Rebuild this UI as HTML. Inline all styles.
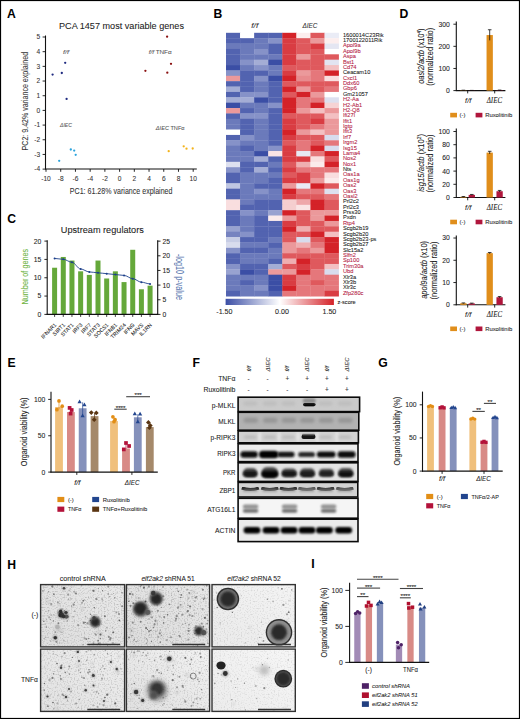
<!DOCTYPE html>
<html><head><meta charset="utf-8"><title>Figure</title>
<style>
html,body{margin:0;padding:0;background:#fff;}
body{width:520px;height:719px;overflow:hidden;position:relative;font-family:"Liberation Sans", sans-serif;}
svg{position:absolute;left:0;top:0;display:block;}
</style></head><body>
<svg width="520" height="719" viewBox="0 0 520 719" font-family="'Liberation Sans', sans-serif">
<rect x="0" y="0" width="520" height="719" fill="#fff"/>
<text x="7.00" y="17.60" font-size="12.2" text-anchor="start" fill="#000" font-weight="bold" >A</text>
<text x="213.50" y="18.00" font-size="12.2" text-anchor="start" fill="#000" font-weight="bold" >B</text>
<text x="7.30" y="222.50" font-size="12.2" text-anchor="start" fill="#000" font-weight="bold" >C</text>
<text x="399.50" y="17.70" font-size="12.2" text-anchor="start" fill="#000" font-weight="bold" >D</text>
<text x="7.40" y="367.30" font-size="12.2" text-anchor="start" fill="#000" font-weight="bold" >E</text>
<text x="192.60" y="367.30" font-size="12.2" text-anchor="start" fill="#000" font-weight="bold" >F</text>
<text x="378.30" y="367.30" font-size="12.2" text-anchor="start" fill="#000" font-weight="bold" >G</text>
<text x="7.30" y="568.50" font-size="12.2" text-anchor="start" fill="#000" font-weight="bold" >H</text>
<text x="311.30" y="567.50" font-size="12.2" text-anchor="start" fill="#000" font-weight="bold" >I</text>
<text x="59.00" y="28.50" font-size="9.1" text-anchor="start" fill="#222" textLength="125.00" lengthAdjust="spacingAndGlyphs" stroke="#222" stroke-width="0.07" >PCA 1457 most variable genes</text>
<line x1="45.50" y1="35.50" x2="45.50" y2="169.50" stroke="#111" stroke-width="1.1"/>
<line x1="45.00" y1="169.00" x2="196.80" y2="169.00" stroke="#111" stroke-width="1.1"/>
<line x1="42.60" y1="169.12" x2="45.50" y2="169.12" stroke="#111" stroke-width="0.9"/>
<text x="40.20" y="171.42" font-size="6.6" text-anchor="end" fill="#333" stroke="#333" stroke-width="0.07" >-4</text>
<line x1="42.60" y1="154.44" x2="45.50" y2="154.44" stroke="#111" stroke-width="0.9"/>
<text x="40.20" y="156.74" font-size="6.6" text-anchor="end" fill="#333" stroke="#333" stroke-width="0.07" >-3</text>
<line x1="42.60" y1="139.76" x2="45.50" y2="139.76" stroke="#111" stroke-width="0.9"/>
<text x="40.20" y="142.06" font-size="6.6" text-anchor="end" fill="#333" stroke="#333" stroke-width="0.07" >-2</text>
<line x1="42.60" y1="125.08" x2="45.50" y2="125.08" stroke="#111" stroke-width="0.9"/>
<text x="40.20" y="127.38" font-size="6.6" text-anchor="end" fill="#333" stroke="#333" stroke-width="0.07" >-1</text>
<line x1="42.60" y1="110.40" x2="45.50" y2="110.40" stroke="#111" stroke-width="0.9"/>
<text x="40.20" y="112.70" font-size="6.6" text-anchor="end" fill="#333" stroke="#333" stroke-width="0.07" >0</text>
<line x1="42.60" y1="95.72" x2="45.50" y2="95.72" stroke="#111" stroke-width="0.9"/>
<text x="40.20" y="98.02" font-size="6.6" text-anchor="end" fill="#333" stroke="#333" stroke-width="0.07" >1</text>
<line x1="42.60" y1="81.04" x2="45.50" y2="81.04" stroke="#111" stroke-width="0.9"/>
<text x="40.20" y="83.34" font-size="6.6" text-anchor="end" fill="#333" stroke="#333" stroke-width="0.07" >2</text>
<line x1="42.60" y1="66.36" x2="45.50" y2="66.36" stroke="#111" stroke-width="0.9"/>
<text x="40.20" y="68.66" font-size="6.6" text-anchor="end" fill="#333" stroke="#333" stroke-width="0.07" >3</text>
<line x1="42.60" y1="51.68" x2="45.50" y2="51.68" stroke="#111" stroke-width="0.9"/>
<text x="40.20" y="53.98" font-size="6.6" text-anchor="end" fill="#333" stroke="#333" stroke-width="0.07" >4</text>
<line x1="42.60" y1="37.00" x2="45.50" y2="37.00" stroke="#111" stroke-width="0.9"/>
<text x="40.20" y="39.30" font-size="6.6" text-anchor="end" fill="#333" stroke="#333" stroke-width="0.07" >5</text>
<line x1="46.00" y1="169.00" x2="46.00" y2="171.80" stroke="#111" stroke-width="0.9"/>
<text x="46.00" y="181.20" font-size="6.6" text-anchor="middle" fill="#333" stroke="#333" stroke-width="0.07" >-10</text>
<line x1="60.72" y1="169.00" x2="60.72" y2="171.80" stroke="#111" stroke-width="0.9"/>
<text x="60.72" y="181.20" font-size="6.6" text-anchor="middle" fill="#333" stroke="#333" stroke-width="0.07" >-8</text>
<line x1="75.44" y1="169.00" x2="75.44" y2="171.80" stroke="#111" stroke-width="0.9"/>
<text x="75.44" y="181.20" font-size="6.6" text-anchor="middle" fill="#333" stroke="#333" stroke-width="0.07" >-6</text>
<line x1="90.16" y1="169.00" x2="90.16" y2="171.80" stroke="#111" stroke-width="0.9"/>
<text x="90.16" y="181.20" font-size="6.6" text-anchor="middle" fill="#333" stroke="#333" stroke-width="0.07" >-4</text>
<line x1="104.88" y1="169.00" x2="104.88" y2="171.80" stroke="#111" stroke-width="0.9"/>
<text x="104.88" y="181.20" font-size="6.6" text-anchor="middle" fill="#333" stroke="#333" stroke-width="0.07" >-2</text>
<line x1="119.60" y1="169.00" x2="119.60" y2="171.80" stroke="#111" stroke-width="0.9"/>
<text x="119.60" y="181.20" font-size="6.6" text-anchor="middle" fill="#333" stroke="#333" stroke-width="0.07" >0</text>
<line x1="134.32" y1="169.00" x2="134.32" y2="171.80" stroke="#111" stroke-width="0.9"/>
<text x="134.32" y="181.20" font-size="6.6" text-anchor="middle" fill="#333" stroke="#333" stroke-width="0.07" >2</text>
<line x1="149.04" y1="169.00" x2="149.04" y2="171.80" stroke="#111" stroke-width="0.9"/>
<text x="149.04" y="181.20" font-size="6.6" text-anchor="middle" fill="#333" stroke="#333" stroke-width="0.07" >4</text>
<line x1="163.76" y1="169.00" x2="163.76" y2="171.80" stroke="#111" stroke-width="0.9"/>
<text x="163.76" y="181.20" font-size="6.6" text-anchor="middle" fill="#333" stroke="#333" stroke-width="0.07" >6</text>
<line x1="178.48" y1="169.00" x2="178.48" y2="171.80" stroke="#111" stroke-width="0.9"/>
<text x="178.48" y="181.20" font-size="6.6" text-anchor="middle" fill="#333" stroke="#333" stroke-width="0.07" >8</text>
<line x1="193.20" y1="169.00" x2="193.20" y2="171.80" stroke="#111" stroke-width="0.9"/>
<text x="193.20" y="181.20" font-size="6.6" text-anchor="middle" fill="#333" stroke="#333" stroke-width="0.07" >10</text>
<text x="69.80" y="194.40" font-size="9.2" text-anchor="start" fill="#333" textLength="102.70" lengthAdjust="spacingAndGlyphs" stroke="#333" stroke-width="0.07" >PC1: 61.28% variance explained</text>
<text x="27.60" y="150.40" font-size="9.2" text-anchor="start" fill="#333" textLength="98.50" lengthAdjust="spacingAndGlyphs" transform="rotate(-90 27.60 150.40)" stroke="#333" stroke-width="0.07" >PC2: 9.42% variance explained</text>
<circle cx="52.60" cy="74.60" r="1.15" fill="#1f2a80" />
<circle cx="61.80" cy="73.00" r="1.15" fill="#1f2a80" />
<circle cx="65.20" cy="62.80" r="1.15" fill="#1f2a80" />
<circle cx="66.60" cy="98.90" r="1.15" fill="#1f2a80" />
<circle cx="167.10" cy="36.70" r="1.15" fill="#8a1010" />
<circle cx="171.00" cy="63.80" r="1.15" fill="#8a1010" />
<circle cx="145.40" cy="70.80" r="1.15" fill="#8a1010" />
<circle cx="167.30" cy="72.70" r="1.15" fill="#8a1010" />
<circle cx="70.80" cy="149.50" r="1.15" fill="#2aa3dc" />
<circle cx="74.20" cy="150.60" r="1.15" fill="#2aa3dc" />
<circle cx="75.70" cy="154.80" r="1.15" fill="#2aa3dc" />
<circle cx="59.20" cy="160.80" r="1.15" fill="#2aa3dc" />
<circle cx="168.70" cy="151.20" r="1.15" fill="#f3b31b" />
<circle cx="183.70" cy="146.30" r="1.15" fill="#f3b31b" />
<circle cx="186.50" cy="148.70" r="1.15" fill="#f3b31b" />
<circle cx="192.70" cy="148.50" r="1.15" fill="#f3b31b" />
<text x="63.00" y="53.80" font-size="6" text-anchor="start" fill="#555" font-style="italic" textLength="6.00" lengthAdjust="spacingAndGlyphs" stroke="#555" stroke-width="0.07" >f/f</text>
<text x="148.70" y="53.70" font-size="6" text-anchor="start" fill="#555" textLength="23.00" lengthAdjust="spacingAndGlyphs" stroke="#555" stroke-width="0.07" ><tspan font-style="italic">f/f</tspan> TNFα</text>
<text x="60.00" y="127.40" font-size="6" text-anchor="start" fill="#555" font-style="italic" textLength="12.00" lengthAdjust="spacingAndGlyphs" stroke="#555" stroke-width="0.07" >ΔIEC</text>
<text x="155.80" y="130.00" font-size="6" text-anchor="start" fill="#555" textLength="28.80" lengthAdjust="spacingAndGlyphs" stroke="#555" stroke-width="0.07" ><tspan font-style="italic">ΔIEC</tspan> TNFα</text>
<rect x="226.00" y="32.80" width="14.38" height="5.68" fill="#5263b0" />
<rect x="240.07" y="32.80" width="14.38" height="5.68" fill="#ffffff" />
<rect x="254.15" y="32.80" width="14.38" height="5.68" fill="#5263b0" />
<rect x="268.23" y="32.80" width="14.38" height="5.68" fill="#5263b0" />
<rect x="282.30" y="32.80" width="14.38" height="5.68" fill="#d42228" />
<rect x="296.38" y="32.80" width="14.38" height="5.68" fill="#fceeee" />
<rect x="310.45" y="32.80" width="14.38" height="5.68" fill="#df595d" />
<rect x="324.53" y="32.80" width="14.38" height="5.68" fill="#eaecf6" />
<text x="342.90" y="36.69" font-size="5.7" text-anchor="start" fill="#1a1a1a" stroke="#1a1a1a" stroke-width="0.07" >1600014C23Rik</text>
<rect x="226.00" y="38.18" width="14.38" height="5.68" fill="#5263b0" />
<rect x="240.07" y="38.18" width="14.38" height="5.68" fill="#5263b0" />
<rect x="254.15" y="38.18" width="14.38" height="5.68" fill="#6b7abb" />
<rect x="268.23" y="38.18" width="14.38" height="5.68" fill="#8692c8" />
<rect x="282.30" y="38.18" width="14.38" height="5.68" fill="#d93c42" />
<rect x="296.38" y="38.18" width="14.38" height="5.68" fill="#df595d" />
<rect x="310.45" y="38.18" width="14.38" height="5.68" fill="#eb999b" />
<rect x="324.53" y="38.18" width="14.38" height="5.68" fill="#fceeee" />
<text x="342.90" y="42.06" font-size="5.7" text-anchor="start" fill="#1a1a1a" stroke="#1a1a1a" stroke-width="0.07" >1700122011Rik</text>
<rect x="226.00" y="43.55" width="14.38" height="5.68" fill="#6b7abb" />
<rect x="240.07" y="43.55" width="14.38" height="5.68" fill="#6b7abb" />
<rect x="254.15" y="43.55" width="14.38" height="5.68" fill="#6b7abb" />
<rect x="268.23" y="43.55" width="14.38" height="5.68" fill="#5263b0" />
<rect x="282.30" y="43.55" width="14.38" height="5.68" fill="#d93c42" />
<rect x="296.38" y="43.55" width="14.38" height="5.68" fill="#df595d" />
<rect x="310.45" y="43.55" width="14.38" height="5.68" fill="#d93c42" />
<rect x="324.53" y="43.55" width="14.38" height="5.68" fill="#e4e6f2" />
<text x="342.90" y="47.44" font-size="5.7" text-anchor="start" fill="#b3173f" stroke="#b3173f" stroke-width="0.07" >Apol9a</text>
<rect x="226.00" y="48.93" width="14.38" height="5.68" fill="#5263b0" />
<rect x="240.07" y="48.93" width="14.38" height="5.68" fill="#6b7abb" />
<rect x="254.15" y="48.93" width="14.38" height="5.68" fill="#8692c8" />
<rect x="268.23" y="48.93" width="14.38" height="5.68" fill="#5263b0" />
<rect x="282.30" y="48.93" width="14.38" height="5.68" fill="#d93c42" />
<rect x="296.38" y="48.93" width="14.38" height="5.68" fill="#df595d" />
<rect x="310.45" y="48.93" width="14.38" height="5.68" fill="#df595d" />
<rect x="324.53" y="48.93" width="14.38" height="5.68" fill="#ffffff" />
<text x="342.90" y="52.81" font-size="5.7" text-anchor="start" fill="#b3173f" stroke="#b3173f" stroke-width="0.07" >Apol9b</text>
<rect x="226.00" y="54.30" width="14.38" height="5.68" fill="#5263b0" />
<rect x="240.07" y="54.30" width="14.38" height="5.68" fill="#6b7abb" />
<rect x="254.15" y="54.30" width="14.38" height="5.68" fill="#6b7abb" />
<rect x="268.23" y="54.30" width="14.38" height="5.68" fill="#6b7abb" />
<rect x="282.30" y="54.30" width="14.38" height="5.68" fill="#d93c42" />
<rect x="296.38" y="54.30" width="14.38" height="5.68" fill="#eb999b" />
<rect x="310.45" y="54.30" width="14.38" height="5.68" fill="#df595d" />
<rect x="324.53" y="54.30" width="14.38" height="5.68" fill="#df595d" />
<text x="342.90" y="58.19" font-size="5.7" text-anchor="start" fill="#b3173f" stroke="#b3173f" stroke-width="0.07" >Aspa</text>
<rect x="226.00" y="59.68" width="14.38" height="5.68" fill="#5263b0" />
<rect x="240.07" y="59.68" width="14.38" height="5.68" fill="#8692c8" />
<rect x="254.15" y="59.68" width="14.38" height="5.68" fill="#a4add5" />
<rect x="268.23" y="59.68" width="14.38" height="5.68" fill="#3b4ea5" />
<rect x="282.30" y="59.68" width="14.38" height="5.68" fill="#d93c42" />
<rect x="296.38" y="59.68" width="14.38" height="5.68" fill="#df595d" />
<rect x="310.45" y="59.68" width="14.38" height="5.68" fill="#df595d" />
<rect x="324.53" y="59.68" width="14.38" height="5.68" fill="#e2e4f1" />
<text x="342.90" y="63.57" font-size="5.7" text-anchor="start" fill="#b3173f" stroke="#b3173f" stroke-width="0.07" >Bst1</text>
<rect x="226.00" y="65.05" width="14.38" height="5.68" fill="#3b4ea5" />
<rect x="240.07" y="65.05" width="14.38" height="5.68" fill="#6b7abb" />
<rect x="254.15" y="65.05" width="14.38" height="5.68" fill="#8692c8" />
<rect x="268.23" y="65.05" width="14.38" height="5.68" fill="#6b7abb" />
<rect x="282.30" y="65.05" width="14.38" height="5.68" fill="#df595d" />
<rect x="296.38" y="65.05" width="14.38" height="5.68" fill="#df595d" />
<rect x="310.45" y="65.05" width="14.38" height="5.68" fill="#df595d" />
<rect x="324.53" y="65.05" width="14.38" height="5.68" fill="#f3c0c2" />
<text x="342.90" y="68.94" font-size="5.7" text-anchor="start" fill="#b3173f" stroke="#b3173f" stroke-width="0.07" >Cd74</text>
<rect x="226.00" y="70.43" width="14.38" height="5.68" fill="#8692c8" />
<rect x="240.07" y="70.43" width="14.38" height="5.68" fill="#5263b0" />
<rect x="254.15" y="70.43" width="14.38" height="5.68" fill="#5263b0" />
<rect x="268.23" y="70.43" width="14.38" height="5.68" fill="#6b7abb" />
<rect x="282.30" y="70.43" width="14.38" height="5.68" fill="#d93c42" />
<rect x="296.38" y="70.43" width="14.38" height="5.68" fill="#eb999b" />
<rect x="310.45" y="70.43" width="14.38" height="5.68" fill="#e5777b" />
<rect x="324.53" y="70.43" width="14.38" height="5.68" fill="#d42228" />
<text x="342.90" y="74.32" font-size="5.7" text-anchor="start" fill="#1a1a1a" stroke="#1a1a1a" stroke-width="0.07" >Ceacam10</text>
<rect x="226.00" y="75.80" width="14.38" height="5.68" fill="#eb999b" />
<rect x="240.07" y="75.80" width="14.38" height="5.68" fill="#5263b0" />
<rect x="254.15" y="75.80" width="14.38" height="5.68" fill="#8692c8" />
<rect x="268.23" y="75.80" width="14.38" height="5.68" fill="#3b4ea5" />
<rect x="282.30" y="75.80" width="14.38" height="5.68" fill="#d42228" />
<rect x="296.38" y="75.80" width="14.38" height="5.68" fill="#e88b8e" />
<rect x="310.45" y="75.80" width="14.38" height="5.68" fill="#e5777b" />
<rect x="324.53" y="75.80" width="14.38" height="5.68" fill="#f9dedf" />
<text x="342.90" y="79.69" font-size="5.7" text-anchor="start" fill="#b3173f" stroke="#b3173f" stroke-width="0.07" >Cxcl1</text>
<rect x="226.00" y="81.18" width="14.38" height="5.68" fill="#5263b0" />
<rect x="240.07" y="81.18" width="14.38" height="5.68" fill="#5263b0" />
<rect x="254.15" y="81.18" width="14.38" height="5.68" fill="#6b7abb" />
<rect x="268.23" y="81.18" width="14.38" height="5.68" fill="#5263b0" />
<rect x="282.30" y="81.18" width="14.38" height="5.68" fill="#df595d" />
<rect x="296.38" y="81.18" width="14.38" height="5.68" fill="#df595d" />
<rect x="310.45" y="81.18" width="14.38" height="5.68" fill="#df595d" />
<rect x="324.53" y="81.18" width="14.38" height="5.68" fill="#df595d" />
<text x="342.90" y="85.07" font-size="5.7" text-anchor="start" fill="#b3173f" stroke="#b3173f" stroke-width="0.07" >Ddx60</text>
<rect x="226.00" y="86.56" width="14.38" height="5.68" fill="#a4add5" />
<rect x="240.07" y="86.56" width="14.38" height="5.68" fill="#5263b0" />
<rect x="254.15" y="86.56" width="14.38" height="5.68" fill="#6b7abb" />
<rect x="268.23" y="86.56" width="14.38" height="5.68" fill="#5263b0" />
<rect x="282.30" y="86.56" width="14.38" height="5.68" fill="#d42228" />
<rect x="296.38" y="86.56" width="14.38" height="5.68" fill="#eb999b" />
<rect x="310.45" y="86.56" width="14.38" height="5.68" fill="#df595d" />
<rect x="324.53" y="86.56" width="14.38" height="5.68" fill="#e5777b" />
<text x="342.90" y="90.44" font-size="5.7" text-anchor="start" fill="#b3173f" stroke="#b3173f" stroke-width="0.07" >Gbp6</text>
<rect x="226.00" y="91.93" width="14.38" height="5.68" fill="#5263b0" />
<rect x="240.07" y="91.93" width="14.38" height="5.68" fill="#8692c8" />
<rect x="254.15" y="91.93" width="14.38" height="5.68" fill="#8692c8" />
<rect x="268.23" y="91.93" width="14.38" height="5.68" fill="#5263b0" />
<rect x="282.30" y="91.93" width="14.38" height="5.68" fill="#df595d" />
<rect x="296.38" y="91.93" width="14.38" height="5.68" fill="#d42228" />
<rect x="310.45" y="91.93" width="14.38" height="5.68" fill="#eb999b" />
<rect x="324.53" y="91.93" width="14.38" height="5.68" fill="#ffffff" />
<text x="342.90" y="95.82" font-size="5.7" text-anchor="start" fill="#1a1a1a" stroke="#1a1a1a" stroke-width="0.07" >Gm21057</text>
<rect x="226.00" y="97.31" width="14.38" height="5.68" fill="#a4add5" />
<rect x="240.07" y="97.31" width="14.38" height="5.68" fill="#a4add5" />
<rect x="254.15" y="97.31" width="14.38" height="5.68" fill="#3b4ea5" />
<rect x="268.23" y="97.31" width="14.38" height="5.68" fill="#5263b0" />
<rect x="282.30" y="97.31" width="14.38" height="5.68" fill="#d42228" />
<rect x="296.38" y="97.31" width="14.38" height="5.68" fill="#e5777b" />
<rect x="310.45" y="97.31" width="14.38" height="5.68" fill="#e5777b" />
<rect x="324.53" y="97.31" width="14.38" height="5.68" fill="#dde0ef" />
<text x="342.90" y="101.19" font-size="5.7" text-anchor="start" fill="#b3173f" stroke="#b3173f" stroke-width="0.07" >H2-Aa</text>
<rect x="226.00" y="102.68" width="14.38" height="5.68" fill="#3b4ea5" />
<rect x="240.07" y="102.68" width="14.38" height="5.68" fill="#6b7abb" />
<rect x="254.15" y="102.68" width="14.38" height="5.68" fill="#6b7abb" />
<rect x="268.23" y="102.68" width="14.38" height="5.68" fill="#8692c8" />
<rect x="282.30" y="102.68" width="14.38" height="5.68" fill="#d42228" />
<rect x="296.38" y="102.68" width="14.38" height="5.68" fill="#e5777b" />
<rect x="310.45" y="102.68" width="14.38" height="5.68" fill="#d42228" />
<rect x="324.53" y="102.68" width="14.38" height="5.68" fill="#f6d3d4" />
<text x="342.90" y="106.57" font-size="5.7" text-anchor="start" fill="#b3173f" stroke="#b3173f" stroke-width="0.07" >H2-Ab1</text>
<rect x="226.00" y="108.06" width="14.38" height="5.68" fill="#eb999b" />
<rect x="240.07" y="108.06" width="14.38" height="5.68" fill="#5263b0" />
<rect x="254.15" y="108.06" width="14.38" height="5.68" fill="#6b7abb" />
<rect x="268.23" y="108.06" width="14.38" height="5.68" fill="#5263b0" />
<rect x="282.30" y="108.06" width="14.38" height="5.68" fill="#d42228" />
<rect x="296.38" y="108.06" width="14.38" height="5.68" fill="#eb999b" />
<rect x="310.45" y="108.06" width="14.38" height="5.68" fill="#f3c0c2" />
<rect x="324.53" y="108.06" width="14.38" height="5.68" fill="#eb999b" />
<text x="342.90" y="111.94" font-size="5.7" text-anchor="start" fill="#b3173f" stroke="#b3173f" stroke-width="0.07" >H2-Q8</text>
<rect x="226.00" y="113.43" width="14.38" height="5.68" fill="#5263b0" />
<rect x="240.07" y="113.43" width="14.38" height="5.68" fill="#8692c8" />
<rect x="254.15" y="113.43" width="14.38" height="5.68" fill="#8692c8" />
<rect x="268.23" y="113.43" width="14.38" height="5.68" fill="#5263b0" />
<rect x="282.30" y="113.43" width="14.38" height="5.68" fill="#df595d" />
<rect x="296.38" y="113.43" width="14.38" height="5.68" fill="#df595d" />
<rect x="310.45" y="113.43" width="14.38" height="5.68" fill="#df595d" />
<rect x="324.53" y="113.43" width="14.38" height="5.68" fill="#f3c0c2" />
<text x="342.90" y="117.32" font-size="5.7" text-anchor="start" fill="#b3173f" stroke="#b3173f" stroke-width="0.07" >Ifi27l</text>
<rect x="226.00" y="118.81" width="14.38" height="5.68" fill="#6b7abb" />
<rect x="240.07" y="118.81" width="14.38" height="5.68" fill="#5263b0" />
<rect x="254.15" y="118.81" width="14.38" height="5.68" fill="#6b7abb" />
<rect x="268.23" y="118.81" width="14.38" height="5.68" fill="#5263b0" />
<rect x="282.30" y="118.81" width="14.38" height="5.68" fill="#d93c42" />
<rect x="296.38" y="118.81" width="14.38" height="5.68" fill="#df595d" />
<rect x="310.45" y="118.81" width="14.38" height="5.68" fill="#d93c42" />
<rect x="324.53" y="118.81" width="14.38" height="5.68" fill="#eb999b" />
<text x="342.90" y="122.70" font-size="5.7" text-anchor="start" fill="#b3173f" stroke="#b3173f" stroke-width="0.07" >Ifit1</text>
<rect x="226.00" y="124.18" width="14.38" height="5.68" fill="#6b7abb" />
<rect x="240.07" y="124.18" width="14.38" height="5.68" fill="#5263b0" />
<rect x="254.15" y="124.18" width="14.38" height="5.68" fill="#6b7abb" />
<rect x="268.23" y="124.18" width="14.38" height="5.68" fill="#5263b0" />
<rect x="282.30" y="124.18" width="14.38" height="5.68" fill="#d93c42" />
<rect x="296.38" y="124.18" width="14.38" height="5.68" fill="#df595d" />
<rect x="310.45" y="124.18" width="14.38" height="5.68" fill="#e5777b" />
<rect x="324.53" y="124.18" width="14.38" height="5.68" fill="#eb999b" />
<text x="342.90" y="128.07" font-size="5.7" text-anchor="start" fill="#b3173f" stroke="#b3173f" stroke-width="0.07" >Igtp</text>
<rect x="226.00" y="129.56" width="14.38" height="5.68" fill="#ffffff" />
<rect x="240.07" y="129.56" width="14.38" height="5.68" fill="#5263b0" />
<rect x="254.15" y="129.56" width="14.38" height="5.68" fill="#6b7abb" />
<rect x="268.23" y="129.56" width="14.38" height="5.68" fill="#5263b0" />
<rect x="282.30" y="129.56" width="14.38" height="5.68" fill="#d42228" />
<rect x="296.38" y="129.56" width="14.38" height="5.68" fill="#eb999b" />
<rect x="310.45" y="129.56" width="14.38" height="5.68" fill="#f3c0c2" />
<rect x="324.53" y="129.56" width="14.38" height="5.68" fill="#eb999b" />
<text x="342.90" y="133.45" font-size="5.7" text-anchor="start" fill="#b3173f" stroke="#b3173f" stroke-width="0.07" >Ifit3</text>
<rect x="226.00" y="134.93" width="14.38" height="5.68" fill="#5263b0" />
<rect x="240.07" y="134.93" width="14.38" height="5.68" fill="#8692c8" />
<rect x="254.15" y="134.93" width="14.38" height="5.68" fill="#6b7abb" />
<rect x="268.23" y="134.93" width="14.38" height="5.68" fill="#5263b0" />
<rect x="282.30" y="134.93" width="14.38" height="5.68" fill="#d93c42" />
<rect x="296.38" y="134.93" width="14.38" height="5.68" fill="#df595d" />
<rect x="310.45" y="134.93" width="14.38" height="5.68" fill="#df595d" />
<rect x="324.53" y="134.93" width="14.38" height="5.68" fill="#d8dced" />
<text x="342.90" y="138.82" font-size="5.7" text-anchor="start" fill="#b3173f" stroke="#b3173f" stroke-width="0.07" >Irf7</text>
<rect x="226.00" y="140.31" width="14.38" height="5.68" fill="#8692c8" />
<rect x="240.07" y="140.31" width="14.38" height="5.68" fill="#6b7abb" />
<rect x="254.15" y="140.31" width="14.38" height="5.68" fill="#6b7abb" />
<rect x="268.23" y="140.31" width="14.38" height="5.68" fill="#5263b0" />
<rect x="282.30" y="140.31" width="14.38" height="5.68" fill="#df595d" />
<rect x="296.38" y="140.31" width="14.38" height="5.68" fill="#e5777b" />
<rect x="310.45" y="140.31" width="14.38" height="5.68" fill="#df595d" />
<rect x="324.53" y="140.31" width="14.38" height="5.68" fill="#e5777b" />
<text x="342.90" y="144.20" font-size="5.7" text-anchor="start" fill="#b3173f" stroke="#b3173f" stroke-width="0.07" >Irgm2</text>
<rect x="226.00" y="145.69" width="14.38" height="5.68" fill="#6b7abb" />
<rect x="240.07" y="145.69" width="14.38" height="5.68" fill="#5263b0" />
<rect x="254.15" y="145.69" width="14.38" height="5.68" fill="#6b7abb" />
<rect x="268.23" y="145.69" width="14.38" height="5.68" fill="#8692c8" />
<rect x="282.30" y="145.69" width="14.38" height="5.68" fill="#d93c42" />
<rect x="296.38" y="145.69" width="14.38" height="5.68" fill="#e5777b" />
<rect x="310.45" y="145.69" width="14.38" height="5.68" fill="#d42228" />
<rect x="324.53" y="145.69" width="14.38" height="5.68" fill="#d8dced" />
<text x="342.90" y="149.57" font-size="5.7" text-anchor="start" fill="#b3173f" stroke="#b3173f" stroke-width="0.07" >Isg15</text>
<rect x="226.00" y="151.06" width="14.38" height="5.68" fill="#6b7abb" />
<rect x="240.07" y="151.06" width="14.38" height="5.68" fill="#6b7abb" />
<rect x="254.15" y="151.06" width="14.38" height="5.68" fill="#3b4ea5" />
<rect x="268.23" y="151.06" width="14.38" height="5.68" fill="#fae4e5" />
<rect x="282.30" y="151.06" width="14.38" height="5.68" fill="#d93c42" />
<rect x="296.38" y="151.06" width="14.38" height="5.68" fill="#e7e9f4" />
<rect x="310.45" y="151.06" width="14.38" height="5.68" fill="#e5777b" />
<rect x="324.53" y="151.06" width="14.38" height="5.68" fill="#d42228" />
<text x="342.90" y="154.95" font-size="5.7" text-anchor="start" fill="#b3173f" stroke="#b3173f" stroke-width="0.07" >Lama4</text>
<rect x="226.00" y="156.44" width="14.38" height="5.68" fill="#6b7abb" />
<rect x="240.07" y="156.44" width="14.38" height="5.68" fill="#6b7abb" />
<rect x="254.15" y="156.44" width="14.38" height="5.68" fill="#a4add5" />
<rect x="268.23" y="156.44" width="14.38" height="5.68" fill="#5263b0" />
<rect x="282.30" y="156.44" width="14.38" height="5.68" fill="#d93c42" />
<rect x="296.38" y="156.44" width="14.38" height="5.68" fill="#d93c42" />
<rect x="310.45" y="156.44" width="14.38" height="5.68" fill="#f9dedf" />
<rect x="324.53" y="156.44" width="14.38" height="5.68" fill="#df595d" />
<text x="342.90" y="160.32" font-size="5.7" text-anchor="start" fill="#b3173f" stroke="#b3173f" stroke-width="0.07" >Nos2</text>
<rect x="226.00" y="161.81" width="14.38" height="5.68" fill="#dde0ef" />
<rect x="240.07" y="161.81" width="14.38" height="5.68" fill="#5263b0" />
<rect x="254.15" y="161.81" width="14.38" height="5.68" fill="#5263b0" />
<rect x="268.23" y="161.81" width="14.38" height="5.68" fill="#6b7abb" />
<rect x="282.30" y="161.81" width="14.38" height="5.68" fill="#df595d" />
<rect x="296.38" y="161.81" width="14.38" height="5.68" fill="#efafb1" />
<rect x="310.45" y="161.81" width="14.38" height="5.68" fill="#fbebeb" />
<rect x="324.53" y="161.81" width="14.38" height="5.68" fill="#d42228" />
<text x="342.90" y="165.70" font-size="5.7" text-anchor="start" fill="#b3173f" stroke="#b3173f" stroke-width="0.07" >Nox1</text>
<rect x="226.00" y="167.19" width="14.38" height="5.68" fill="#8692c8" />
<rect x="240.07" y="167.19" width="14.38" height="5.68" fill="#5263b0" />
<rect x="254.15" y="167.19" width="14.38" height="5.68" fill="#a4add5" />
<rect x="268.23" y="167.19" width="14.38" height="5.68" fill="#5263b0" />
<rect x="282.30" y="167.19" width="14.38" height="5.68" fill="#d93c42" />
<rect x="296.38" y="167.19" width="14.38" height="5.68" fill="#e5777b" />
<rect x="310.45" y="167.19" width="14.38" height="5.68" fill="#e5777b" />
<rect x="324.53" y="167.19" width="14.38" height="5.68" fill="#e5777b" />
<text x="342.90" y="171.08" font-size="5.7" text-anchor="start" fill="#1a1a1a" stroke="#1a1a1a" stroke-width="0.07" >Nts</text>
<rect x="226.00" y="172.56" width="14.38" height="5.68" fill="#5263b0" />
<rect x="240.07" y="172.56" width="14.38" height="5.68" fill="#6b7abb" />
<rect x="254.15" y="172.56" width="14.38" height="5.68" fill="#6b7abb" />
<rect x="268.23" y="172.56" width="14.38" height="5.68" fill="#6b7abb" />
<rect x="282.30" y="172.56" width="14.38" height="5.68" fill="#df595d" />
<rect x="296.38" y="172.56" width="14.38" height="5.68" fill="#d93c42" />
<rect x="310.45" y="172.56" width="14.38" height="5.68" fill="#e5777b" />
<rect x="324.53" y="172.56" width="14.38" height="5.68" fill="#f9dedf" />
<text x="342.90" y="176.45" font-size="5.7" text-anchor="start" fill="#b3173f" stroke="#b3173f" stroke-width="0.07" >Oas1a</text>
<rect x="226.00" y="177.94" width="14.38" height="5.68" fill="#5263b0" />
<rect x="240.07" y="177.94" width="14.38" height="5.68" fill="#6b7abb" />
<rect x="254.15" y="177.94" width="14.38" height="5.68" fill="#6b7abb" />
<rect x="268.23" y="177.94" width="14.38" height="5.68" fill="#5263b0" />
<rect x="282.30" y="177.94" width="14.38" height="5.68" fill="#d93c42" />
<rect x="296.38" y="177.94" width="14.38" height="5.68" fill="#d93c42" />
<rect x="310.45" y="177.94" width="14.38" height="5.68" fill="#eb999b" />
<rect x="324.53" y="177.94" width="14.38" height="5.68" fill="#fbebeb" />
<text x="342.90" y="181.83" font-size="5.7" text-anchor="start" fill="#b3173f" stroke="#b3173f" stroke-width="0.07" >Oas1g</text>
<rect x="226.00" y="183.31" width="14.38" height="5.68" fill="#bfc6e2" />
<rect x="240.07" y="183.31" width="14.38" height="5.68" fill="#6b7abb" />
<rect x="254.15" y="183.31" width="14.38" height="5.68" fill="#5263b0" />
<rect x="268.23" y="183.31" width="14.38" height="5.68" fill="#5263b0" />
<rect x="282.30" y="183.31" width="14.38" height="5.68" fill="#eb999b" />
<rect x="296.38" y="183.31" width="14.38" height="5.68" fill="#e9ebf5" />
<rect x="310.45" y="183.31" width="14.38" height="5.68" fill="#d42228" />
<rect x="324.53" y="183.31" width="14.38" height="5.68" fill="#df595d" />
<text x="342.90" y="187.20" font-size="5.7" text-anchor="start" fill="#b3173f" stroke="#b3173f" stroke-width="0.07" >Oas2</text>
<rect x="226.00" y="188.69" width="14.38" height="5.68" fill="#5263b0" />
<rect x="240.07" y="188.69" width="14.38" height="5.68" fill="#6b7abb" />
<rect x="254.15" y="188.69" width="14.38" height="5.68" fill="#8692c8" />
<rect x="268.23" y="188.69" width="14.38" height="5.68" fill="#6b7abb" />
<rect x="282.30" y="188.69" width="14.38" height="5.68" fill="#d42228" />
<rect x="296.38" y="188.69" width="14.38" height="5.68" fill="#e5777b" />
<rect x="310.45" y="188.69" width="14.38" height="5.68" fill="#e5777b" />
<rect x="324.53" y="188.69" width="14.38" height="5.68" fill="#dde0ef" />
<text x="342.90" y="192.58" font-size="5.7" text-anchor="start" fill="#b3173f" stroke="#b3173f" stroke-width="0.07" >Oas3</text>
<rect x="226.00" y="194.07" width="14.38" height="5.68" fill="#5263b0" />
<rect x="240.07" y="194.07" width="14.38" height="5.68" fill="#6b7abb" />
<rect x="254.15" y="194.07" width="14.38" height="5.68" fill="#6b7abb" />
<rect x="268.23" y="194.07" width="14.38" height="5.68" fill="#6b7abb" />
<rect x="282.30" y="194.07" width="14.38" height="5.68" fill="#d93c42" />
<rect x="296.38" y="194.07" width="14.38" height="5.68" fill="#df595d" />
<rect x="310.45" y="194.07" width="14.38" height="5.68" fill="#df595d" />
<rect x="324.53" y="194.07" width="14.38" height="5.68" fill="#e5777b" />
<text x="342.90" y="197.95" font-size="5.7" text-anchor="start" fill="#b3173f" stroke="#b3173f" stroke-width="0.07" >Oasl2</text>
<rect x="226.00" y="199.44" width="14.38" height="5.68" fill="#f9dedf" />
<rect x="240.07" y="199.44" width="14.38" height="5.68" fill="#6b7abb" />
<rect x="254.15" y="199.44" width="14.38" height="5.68" fill="#5263b0" />
<rect x="268.23" y="199.44" width="14.38" height="5.68" fill="#5263b0" />
<rect x="282.30" y="199.44" width="14.38" height="5.68" fill="#f5cecf" />
<rect x="296.38" y="199.44" width="14.38" height="5.68" fill="#eea7aa" />
<rect x="310.45" y="199.44" width="14.38" height="5.68" fill="#d42228" />
<rect x="324.53" y="199.44" width="14.38" height="5.68" fill="#df595d" />
<text x="342.90" y="203.33" font-size="5.7" text-anchor="start" fill="#1a1a1a" stroke="#1a1a1a" stroke-width="0.07" >Prl2c2</text>
<rect x="226.00" y="204.82" width="14.38" height="5.68" fill="#f9dedf" />
<rect x="240.07" y="204.82" width="14.38" height="5.68" fill="#5263b0" />
<rect x="254.15" y="204.82" width="14.38" height="5.68" fill="#5263b0" />
<rect x="268.23" y="204.82" width="14.38" height="5.68" fill="#5263b0" />
<rect x="282.30" y="204.82" width="14.38" height="5.68" fill="#f5cecf" />
<rect x="296.38" y="204.82" width="14.38" height="5.68" fill="#fae4e5" />
<rect x="310.45" y="204.82" width="14.38" height="5.68" fill="#d42228" />
<rect x="324.53" y="204.82" width="14.38" height="5.68" fill="#df595d" />
<text x="342.90" y="208.70" font-size="5.7" text-anchor="start" fill="#1a1a1a" stroke="#1a1a1a" stroke-width="0.07" >Prl2c3</text>
<rect x="226.00" y="210.19" width="14.38" height="5.68" fill="#5263b0" />
<rect x="240.07" y="210.19" width="14.38" height="5.68" fill="#8692c8" />
<rect x="254.15" y="210.19" width="14.38" height="5.68" fill="#6b7abb" />
<rect x="268.23" y="210.19" width="14.38" height="5.68" fill="#98a2d0" />
<rect x="282.30" y="210.19" width="14.38" height="5.68" fill="#d42228" />
<rect x="296.38" y="210.19" width="14.38" height="5.68" fill="#df595d" />
<rect x="310.45" y="210.19" width="14.38" height="5.68" fill="#eb999b" />
<rect x="324.53" y="210.19" width="14.38" height="5.68" fill="#eb999b" />
<text x="342.90" y="214.08" font-size="5.7" text-anchor="start" fill="#1a1a1a" stroke="#1a1a1a" stroke-width="0.07" >Prss30</text>
<rect x="226.00" y="215.57" width="14.38" height="5.68" fill="#5263b0" />
<rect x="240.07" y="215.57" width="14.38" height="5.68" fill="#6b7abb" />
<rect x="254.15" y="215.57" width="14.38" height="5.68" fill="#5263b0" />
<rect x="268.23" y="215.57" width="14.38" height="5.68" fill="#fbebeb" />
<rect x="282.30" y="215.57" width="14.38" height="5.68" fill="#eb999b" />
<rect x="296.38" y="215.57" width="14.38" height="5.68" fill="#df595d" />
<rect x="310.45" y="215.57" width="14.38" height="5.68" fill="#eb999b" />
<rect x="324.53" y="215.57" width="14.38" height="5.68" fill="#d42228" />
<text x="342.90" y="219.46" font-size="5.7" text-anchor="start" fill="#1a1a1a" stroke="#1a1a1a" stroke-width="0.07" >Pxdn</text>
<rect x="226.00" y="220.94" width="14.38" height="5.68" fill="#5263b0" />
<rect x="240.07" y="220.94" width="14.38" height="5.68" fill="#6b7abb" />
<rect x="254.15" y="220.94" width="14.38" height="5.68" fill="#5263b0" />
<rect x="268.23" y="220.94" width="14.38" height="5.68" fill="#5263b0" />
<rect x="282.30" y="220.94" width="14.38" height="5.68" fill="#d93c42" />
<rect x="296.38" y="220.94" width="14.38" height="5.68" fill="#df595d" />
<rect x="310.45" y="220.94" width="14.38" height="5.68" fill="#df595d" />
<rect x="324.53" y="220.94" width="14.38" height="5.68" fill="#eb999b" />
<text x="342.90" y="224.83" font-size="5.7" text-anchor="start" fill="#b3173f" stroke="#b3173f" stroke-width="0.07" >Rtp4</text>
<rect x="226.00" y="226.32" width="14.38" height="5.68" fill="#98a2d0" />
<rect x="240.07" y="226.32" width="14.38" height="5.68" fill="#6b7abb" />
<rect x="254.15" y="226.32" width="14.38" height="5.68" fill="#5263b0" />
<rect x="268.23" y="226.32" width="14.38" height="5.68" fill="#5263b0" />
<rect x="282.30" y="226.32" width="14.38" height="5.68" fill="#d42228" />
<rect x="296.38" y="226.32" width="14.38" height="5.68" fill="#efafb1" />
<rect x="310.45" y="226.32" width="14.38" height="5.68" fill="#df595d" />
<rect x="324.53" y="226.32" width="14.38" height="5.68" fill="#df595d" />
<text x="342.90" y="230.21" font-size="5.7" text-anchor="start" fill="#1a1a1a" stroke="#1a1a1a" stroke-width="0.07" >Scgb2b19</text>
<rect x="226.00" y="231.69" width="14.38" height="5.68" fill="#7683c0" />
<rect x="240.07" y="231.69" width="14.38" height="5.68" fill="#8692c8" />
<rect x="254.15" y="231.69" width="14.38" height="5.68" fill="#5263b0" />
<rect x="268.23" y="231.69" width="14.38" height="5.68" fill="#5263b0" />
<rect x="282.30" y="231.69" width="14.38" height="5.68" fill="#df595d" />
<rect x="296.38" y="231.69" width="14.38" height="5.68" fill="#df595d" />
<rect x="310.45" y="231.69" width="14.38" height="5.68" fill="#d42228" />
<rect x="324.53" y="231.69" width="14.38" height="5.68" fill="#f3c0c2" />
<text x="342.90" y="235.58" font-size="5.7" text-anchor="start" fill="#1a1a1a" stroke="#1a1a1a" stroke-width="0.07" >Scgb2b20</text>
<rect x="226.00" y="237.07" width="14.38" height="5.68" fill="#c7cde5" />
<rect x="240.07" y="237.07" width="14.38" height="5.68" fill="#5263b0" />
<rect x="254.15" y="237.07" width="14.38" height="5.68" fill="#5263b0" />
<rect x="268.23" y="237.07" width="14.38" height="5.68" fill="#6b7abb" />
<rect x="282.30" y="237.07" width="14.38" height="5.68" fill="#df595d" />
<rect x="296.38" y="237.07" width="14.38" height="5.68" fill="#d8dced" />
<rect x="310.45" y="237.07" width="14.38" height="5.68" fill="#df595d" />
<rect x="324.53" y="237.07" width="14.38" height="5.68" fill="#d42228" />
<text x="342.90" y="240.96" font-size="5.7" text-anchor="start" fill="#1a1a1a" stroke="#1a1a1a" stroke-width="0.07" >Scgb2b23-ps</text>
<rect x="226.00" y="242.44" width="14.38" height="5.68" fill="#d8dced" />
<rect x="240.07" y="242.44" width="14.38" height="5.68" fill="#6b7abb" />
<rect x="254.15" y="242.44" width="14.38" height="5.68" fill="#6b7abb" />
<rect x="268.23" y="242.44" width="14.38" height="5.68" fill="#5263b0" />
<rect x="282.30" y="242.44" width="14.38" height="5.68" fill="#eb999b" />
<rect x="296.38" y="242.44" width="14.38" height="5.68" fill="#efafb1" />
<rect x="310.45" y="242.44" width="14.38" height="5.68" fill="#e5777b" />
<rect x="324.53" y="242.44" width="14.38" height="5.68" fill="#d42228" />
<text x="342.90" y="246.33" font-size="5.7" text-anchor="start" fill="#1a1a1a" stroke="#1a1a1a" stroke-width="0.07" >Scgb2b27</text>
<rect x="226.00" y="247.82" width="14.38" height="5.68" fill="#8692c8" />
<rect x="240.07" y="247.82" width="14.38" height="5.68" fill="#5263b0" />
<rect x="254.15" y="247.82" width="14.38" height="5.68" fill="#5263b0" />
<rect x="268.23" y="247.82" width="14.38" height="5.68" fill="#6b7abb" />
<rect x="282.30" y="247.82" width="14.38" height="5.68" fill="#eb999b" />
<rect x="296.38" y="247.82" width="14.38" height="5.68" fill="#e5777b" />
<rect x="310.45" y="247.82" width="14.38" height="5.68" fill="#eb999b" />
<rect x="324.53" y="247.82" width="14.38" height="5.68" fill="#d42228" />
<text x="342.90" y="251.71" font-size="5.7" text-anchor="start" fill="#1a1a1a" stroke="#1a1a1a" stroke-width="0.07" >Slc15a2</text>
<rect x="226.00" y="253.20" width="14.38" height="5.68" fill="#5263b0" />
<rect x="240.07" y="253.20" width="14.38" height="5.68" fill="#6b7abb" />
<rect x="254.15" y="253.20" width="14.38" height="5.68" fill="#6b7abb" />
<rect x="268.23" y="253.20" width="14.38" height="5.68" fill="#6b7abb" />
<rect x="282.30" y="253.20" width="14.38" height="5.68" fill="#df595d" />
<rect x="296.38" y="253.20" width="14.38" height="5.68" fill="#df595d" />
<rect x="310.45" y="253.20" width="14.38" height="5.68" fill="#df595d" />
<rect x="324.53" y="253.20" width="14.38" height="5.68" fill="#df595d" />
<text x="342.90" y="257.08" font-size="5.7" text-anchor="start" fill="#b3173f" stroke="#b3173f" stroke-width="0.07" >Slfn2</text>
<rect x="226.00" y="258.57" width="14.38" height="5.68" fill="#5263b0" />
<rect x="240.07" y="258.57" width="14.38" height="5.68" fill="#6b7abb" />
<rect x="254.15" y="258.57" width="14.38" height="5.68" fill="#6b7abb" />
<rect x="268.23" y="258.57" width="14.38" height="5.68" fill="#5263b0" />
<rect x="282.30" y="258.57" width="14.38" height="5.68" fill="#efafb1" />
<rect x="296.38" y="258.57" width="14.38" height="5.68" fill="#d42228" />
<rect x="310.45" y="258.57" width="14.38" height="5.68" fill="#df595d" />
<rect x="324.53" y="258.57" width="14.38" height="5.68" fill="#df595d" />
<text x="342.90" y="262.46" font-size="5.7" text-anchor="start" fill="#b3173f" stroke="#b3173f" stroke-width="0.07" >Sp100</text>
<rect x="226.00" y="263.95" width="14.38" height="5.68" fill="#8692c8" />
<rect x="240.07" y="263.95" width="14.38" height="5.68" fill="#5263b0" />
<rect x="254.15" y="263.95" width="14.38" height="5.68" fill="#5263b0" />
<rect x="268.23" y="263.95" width="14.38" height="5.68" fill="#a4add5" />
<rect x="282.30" y="263.95" width="14.38" height="5.68" fill="#df595d" />
<rect x="296.38" y="263.95" width="14.38" height="5.68" fill="#d93c42" />
<rect x="310.45" y="263.95" width="14.38" height="5.68" fill="#df595d" />
<rect x="324.53" y="263.95" width="14.38" height="5.68" fill="#f3c0c2" />
<text x="342.90" y="267.83" font-size="5.7" text-anchor="start" fill="#b3173f" stroke="#b3173f" stroke-width="0.07" >Trim30a</text>
<rect x="226.00" y="269.32" width="14.38" height="5.68" fill="#98a2d0" />
<rect x="240.07" y="269.32" width="14.38" height="5.68" fill="#3b4ea5" />
<rect x="254.15" y="269.32" width="14.38" height="5.68" fill="#5263b0" />
<rect x="268.23" y="269.32" width="14.38" height="5.68" fill="#eb999b" />
<rect x="282.30" y="269.32" width="14.38" height="5.68" fill="#eb999b" />
<rect x="296.38" y="269.32" width="14.38" height="5.68" fill="#d42228" />
<rect x="310.45" y="269.32" width="14.38" height="5.68" fill="#e5777b" />
<rect x="324.53" y="269.32" width="14.38" height="5.68" fill="#d8dced" />
<text x="342.90" y="273.21" font-size="5.7" text-anchor="start" fill="#b3173f" stroke="#b3173f" stroke-width="0.07" >Ubd</text>
<rect x="226.00" y="274.70" width="14.38" height="5.68" fill="#6b7abb" />
<rect x="240.07" y="274.70" width="14.38" height="5.68" fill="#6b7abb" />
<rect x="254.15" y="274.70" width="14.38" height="5.68" fill="#6b7abb" />
<rect x="268.23" y="274.70" width="14.38" height="5.68" fill="#3b4ea5" />
<rect x="282.30" y="274.70" width="14.38" height="5.68" fill="#d93c42" />
<rect x="296.38" y="274.70" width="14.38" height="5.68" fill="#e5777b" />
<rect x="310.45" y="274.70" width="14.38" height="5.68" fill="#e5777b" />
<rect x="324.53" y="274.70" width="14.38" height="5.68" fill="#e5777b" />
<text x="342.90" y="278.59" font-size="5.7" text-anchor="start" fill="#1a1a1a" stroke="#1a1a1a" stroke-width="0.07" >Xlr3a</text>
<rect x="226.00" y="280.07" width="14.38" height="5.68" fill="#6b7abb" />
<rect x="240.07" y="280.07" width="14.38" height="5.68" fill="#5263b0" />
<rect x="254.15" y="280.07" width="14.38" height="5.68" fill="#6b7abb" />
<rect x="268.23" y="280.07" width="14.38" height="5.68" fill="#3b4ea5" />
<rect x="282.30" y="280.07" width="14.38" height="5.68" fill="#d93c42" />
<rect x="296.38" y="280.07" width="14.38" height="5.68" fill="#e5777b" />
<rect x="310.45" y="280.07" width="14.38" height="5.68" fill="#df595d" />
<rect x="324.53" y="280.07" width="14.38" height="5.68" fill="#e5777b" />
<text x="342.90" y="283.96" font-size="5.7" text-anchor="start" fill="#1a1a1a" stroke="#1a1a1a" stroke-width="0.07" >Xlr3b</text>
<rect x="226.00" y="285.45" width="14.38" height="5.68" fill="#6b7abb" />
<rect x="240.07" y="285.45" width="14.38" height="5.68" fill="#6b7abb" />
<rect x="254.15" y="285.45" width="14.38" height="5.68" fill="#8692c8" />
<rect x="268.23" y="285.45" width="14.38" height="5.68" fill="#3b4ea5" />
<rect x="282.30" y="285.45" width="14.38" height="5.68" fill="#d42228" />
<rect x="296.38" y="285.45" width="14.38" height="5.68" fill="#e5777b" />
<rect x="310.45" y="285.45" width="14.38" height="5.68" fill="#e5777b" />
<rect x="324.53" y="285.45" width="14.38" height="5.68" fill="#e5777b" />
<text x="342.90" y="289.34" font-size="5.7" text-anchor="start" fill="#1a1a1a" stroke="#1a1a1a" stroke-width="0.07" >Xlr3c</text>
<rect x="226.00" y="290.82" width="14.38" height="5.68" fill="#5263b0" />
<rect x="240.07" y="290.82" width="14.38" height="5.68" fill="#6b7abb" />
<rect x="254.15" y="290.82" width="14.38" height="5.68" fill="#6b7abb" />
<rect x="268.23" y="290.82" width="14.38" height="5.68" fill="#5263b0" />
<rect x="282.30" y="290.82" width="14.38" height="5.68" fill="#e5777b" />
<rect x="296.38" y="290.82" width="14.38" height="5.68" fill="#e5777b" />
<rect x="310.45" y="290.82" width="14.38" height="5.68" fill="#e5777b" />
<rect x="324.53" y="290.82" width="14.38" height="5.68" fill="#d93c42" />
<text x="342.90" y="294.71" font-size="5.7" text-anchor="start" fill="#b3173f" stroke="#b3173f" stroke-width="0.07" >Zfp280c</text>
<text x="251.30" y="27.60" font-size="7.6" text-anchor="start" fill="#333" font-style="italic" textLength="7.00" lengthAdjust="spacingAndGlyphs" stroke="#333" stroke-width="0.07" >f/f</text>
<text x="302.50" y="27.60" font-size="7.6" text-anchor="start" fill="#333" font-style="italic" textLength="15.00" lengthAdjust="spacingAndGlyphs" stroke="#333" stroke-width="0.07" >ΔIEC</text>
<defs><linearGradient id="zg" x1="0" x2="1" y1="0" y2="0"><stop offset="0" stop-color="#3b4ea5"/><stop offset="0.5" stop-color="#ffffff"/><stop offset="1" stop-color="#d42228"/></linearGradient></defs>
<rect x="225.60" y="298.80" width="108.30" height="6.20" fill="url(#zg)" />
<text x="337.40" y="303.60" font-size="5.6" text-anchor="start" fill="#222" stroke="#222" stroke-width="0.07" >z-score</text>
<text x="224.40" y="314.40" font-size="7.1" text-anchor="middle" fill="#222" stroke="#222" stroke-width="0.07" >-1.50</text>
<text x="282.00" y="314.40" font-size="7.1" text-anchor="middle" fill="#222" stroke="#222" stroke-width="0.07" >0.00</text>
<text x="329.40" y="314.40" font-size="7.1" text-anchor="middle" fill="#222" stroke="#222" stroke-width="0.07" >1.50</text>
<text x="60.80" y="233.00" font-size="9.2" text-anchor="start" fill="#1a1a1a" textLength="83.00" lengthAdjust="spacingAndGlyphs" stroke="#1a1a1a" stroke-width="0.07" >Upstream regulators</text>
<rect x="52.10" y="267.73" width="5.00" height="46.67" fill="#65a83a" />
<rect x="60.78" y="256.96" width="5.00" height="57.44" fill="#65a83a" />
<rect x="69.46" y="260.55" width="5.00" height="53.85" fill="#65a83a" />
<rect x="78.14" y="271.32" width="5.00" height="43.08" fill="#65a83a" />
<rect x="86.82" y="274.91" width="5.00" height="39.49" fill="#65a83a" />
<rect x="95.50" y="260.55" width="5.00" height="53.85" fill="#65a83a" />
<rect x="104.18" y="278.50" width="5.00" height="35.90" fill="#65a83a" />
<rect x="112.86" y="271.32" width="5.00" height="43.08" fill="#65a83a" />
<rect x="121.54" y="282.09" width="5.00" height="32.31" fill="#65a83a" />
<rect x="130.22" y="249.78" width="5.00" height="64.62" fill="#65a83a" />
<rect x="138.90" y="289.27" width="5.00" height="25.13" fill="#65a83a" />
<rect x="147.58" y="285.68" width="5.00" height="28.72" fill="#65a83a" />
<line x1="47.20" y1="240.30" x2="47.20" y2="315.00" stroke="#111" stroke-width="1.1"/>
<line x1="157.70" y1="240.30" x2="157.70" y2="315.00" stroke="#111" stroke-width="1.1"/>
<line x1="46.70" y1="314.40" x2="158.20" y2="314.40" stroke="#111" stroke-width="1.1"/>
<line x1="44.40" y1="314.40" x2="47.20" y2="314.40" stroke="#111" stroke-width="0.9"/>
<text x="41.40" y="316.80" font-size="6.8" text-anchor="end" fill="#222" stroke="#222" stroke-width="0.07" >0</text>
<line x1="44.40" y1="296.07" x2="47.20" y2="296.07" stroke="#111" stroke-width="0.9"/>
<text x="41.40" y="298.47" font-size="6.8" text-anchor="end" fill="#222" stroke="#222" stroke-width="0.07" >5</text>
<line x1="44.40" y1="277.75" x2="47.20" y2="277.75" stroke="#111" stroke-width="0.9"/>
<text x="41.40" y="280.15" font-size="6.8" text-anchor="end" fill="#222" stroke="#222" stroke-width="0.07" >10</text>
<line x1="44.40" y1="259.42" x2="47.20" y2="259.42" stroke="#111" stroke-width="0.9"/>
<text x="41.40" y="261.82" font-size="6.8" text-anchor="end" fill="#222" stroke="#222" stroke-width="0.07" >15</text>
<line x1="44.40" y1="241.10" x2="47.20" y2="241.10" stroke="#111" stroke-width="0.9"/>
<text x="41.40" y="243.50" font-size="6.8" text-anchor="end" fill="#222" stroke="#222" stroke-width="0.07" >20</text>
<line x1="157.70" y1="314.40" x2="160.50" y2="314.40" stroke="#111" stroke-width="0.9"/>
<text x="162.40" y="316.80" font-size="6.8" text-anchor="start" fill="#222" stroke="#222" stroke-width="0.07" >0</text>
<line x1="157.70" y1="299.75" x2="160.50" y2="299.75" stroke="#111" stroke-width="0.9"/>
<text x="162.40" y="302.15" font-size="6.8" text-anchor="start" fill="#222" stroke="#222" stroke-width="0.07" >5</text>
<line x1="157.70" y1="285.10" x2="160.50" y2="285.10" stroke="#111" stroke-width="0.9"/>
<text x="162.40" y="287.50" font-size="6.8" text-anchor="start" fill="#222" stroke="#222" stroke-width="0.07" >10</text>
<line x1="157.70" y1="270.45" x2="160.50" y2="270.45" stroke="#111" stroke-width="0.9"/>
<text x="162.40" y="272.85" font-size="6.8" text-anchor="start" fill="#222" stroke="#222" stroke-width="0.07" >15</text>
<line x1="157.70" y1="255.80" x2="160.50" y2="255.80" stroke="#111" stroke-width="0.9"/>
<text x="162.40" y="258.20" font-size="6.8" text-anchor="start" fill="#222" stroke="#222" stroke-width="0.07" >20</text>
<line x1="157.70" y1="241.15" x2="160.50" y2="241.15" stroke="#111" stroke-width="0.9"/>
<text x="162.40" y="243.55" font-size="6.8" text-anchor="start" fill="#222" stroke="#222" stroke-width="0.07" >25</text>
<path d="M54.60,258.44 C57.60,258.44 60.28,259.32 63.28,259.32 C66.28,259.32 68.96,262.25 71.96,262.25 C74.96,262.25 77.64,268.98 80.64,268.98 C83.64,268.98 86.32,271.91 89.32,271.91 C92.32,271.91 95.00,272.79 98.00,272.79 C101.00,272.79 103.68,273.67 106.68,273.67 C109.68,273.67 112.36,274.55 115.36,274.55 C118.36,274.55 121.04,275.43 124.04,275.43 C127.04,275.43 129.72,278.65 132.72,278.65 C135.72,278.65 138.40,282.17 141.40,282.17 C144.40,282.17 147.08,283.93 150.08,283.93" fill="none" stroke="#1c3f8a" stroke-width="0.9"/>
<circle cx="54.60" cy="258.44" r="1.00" fill="#1c3f8a" />
<circle cx="63.28" cy="259.32" r="1.00" fill="#1c3f8a" />
<circle cx="71.96" cy="262.25" r="1.00" fill="#1c3f8a" />
<circle cx="80.64" cy="268.98" r="1.00" fill="#1c3f8a" />
<circle cx="89.32" cy="271.91" r="1.00" fill="#1c3f8a" />
<circle cx="98.00" cy="272.79" r="1.00" fill="#1c3f8a" />
<circle cx="106.68" cy="273.67" r="1.00" fill="#1c3f8a" />
<circle cx="115.36" cy="274.55" r="1.00" fill="#1c3f8a" />
<circle cx="124.04" cy="275.43" r="1.00" fill="#1c3f8a" />
<circle cx="132.72" cy="278.65" r="1.00" fill="#1c3f8a" />
<circle cx="141.40" cy="282.17" r="1.00" fill="#1c3f8a" />
<circle cx="150.08" cy="283.93" r="1.00" fill="#1c3f8a" />
<line x1="54.60" y1="314.40" x2="54.60" y2="316.90" stroke="#111" stroke-width="0.8"/>
<text x="56.90" y="325.40" font-size="5.4" text-anchor="end" fill="#222" transform="rotate(-45 56.90 325.40)" stroke="#222" stroke-width="0.07" >IFNAR1</text>
<line x1="63.28" y1="314.40" x2="63.28" y2="316.90" stroke="#111" stroke-width="0.8"/>
<text x="65.58" y="325.40" font-size="5.4" text-anchor="end" fill="#222" transform="rotate(-45 65.58 325.40)" stroke="#222" stroke-width="0.07" >SIRT1</text>
<line x1="71.96" y1="314.40" x2="71.96" y2="316.90" stroke="#111" stroke-width="0.8"/>
<text x="74.26" y="325.40" font-size="5.4" text-anchor="end" fill="#222" transform="rotate(-45 74.26 325.40)" stroke="#222" stroke-width="0.07" >STAT1</text>
<line x1="80.64" y1="314.40" x2="80.64" y2="316.90" stroke="#111" stroke-width="0.8"/>
<text x="82.94" y="325.40" font-size="5.4" text-anchor="end" fill="#222" transform="rotate(-45 82.94 325.40)" stroke="#222" stroke-width="0.07" >IRF3</text>
<line x1="89.32" y1="314.40" x2="89.32" y2="316.90" stroke="#111" stroke-width="0.8"/>
<text x="91.62" y="325.40" font-size="5.4" text-anchor="end" fill="#222" transform="rotate(-45 91.62 325.40)" stroke="#222" stroke-width="0.07" >IRF7</text>
<line x1="98.00" y1="314.40" x2="98.00" y2="316.90" stroke="#111" stroke-width="0.8"/>
<text x="100.30" y="325.40" font-size="5.4" text-anchor="end" fill="#222" transform="rotate(-45 100.30 325.40)" stroke="#222" stroke-width="0.07" >STAT3</text>
<line x1="106.68" y1="314.40" x2="106.68" y2="316.90" stroke="#111" stroke-width="0.8"/>
<text x="108.98" y="325.40" font-size="5.4" text-anchor="end" fill="#222" transform="rotate(-45 108.98 325.40)" stroke="#222" stroke-width="0.07" >SOCS1</text>
<line x1="115.36" y1="314.40" x2="115.36" y2="316.90" stroke="#111" stroke-width="0.8"/>
<text x="117.66" y="325.40" font-size="5.4" text-anchor="end" fill="#222" transform="rotate(-45 117.66 325.40)" stroke="#222" stroke-width="0.07" >IFNB1</text>
<line x1="124.04" y1="314.40" x2="124.04" y2="316.90" stroke="#111" stroke-width="0.8"/>
<text x="126.34" y="325.40" font-size="5.4" text-anchor="end" fill="#222" transform="rotate(-45 126.34 325.40)" stroke="#222" stroke-width="0.07" >TRIM24</text>
<line x1="132.72" y1="314.40" x2="132.72" y2="316.90" stroke="#111" stroke-width="0.8"/>
<text x="135.02" y="325.40" font-size="5.4" text-anchor="end" fill="#222" transform="rotate(-45 135.02 325.40)" stroke="#222" stroke-width="0.07" >IFNG</text>
<line x1="141.40" y1="314.40" x2="141.40" y2="316.90" stroke="#111" stroke-width="0.8"/>
<text x="143.70" y="325.40" font-size="5.4" text-anchor="end" fill="#222" transform="rotate(-45 143.70 325.40)" stroke="#222" stroke-width="0.07" >MAVS</text>
<line x1="150.08" y1="314.40" x2="150.08" y2="316.90" stroke="#111" stroke-width="0.8"/>
<text x="152.38" y="325.40" font-size="5.4" text-anchor="end" fill="#222" transform="rotate(-45 152.38 325.40)" stroke="#222" stroke-width="0.07" >IL1RN</text>
<text x="27.90" y="304.40" font-size="9.6" text-anchor="start" fill="#6db33f" textLength="55.50" lengthAdjust="spacingAndGlyphs" transform="rotate(-90 27.90 304.40)" stroke="#6db33f" stroke-width="0.07" >Number of genes</text>
<text x="176.30" y="253.90" font-size="10.5" text-anchor="start" fill="#5b78b0" textLength="46.10" lengthAdjust="spacingAndGlyphs" transform="rotate(90 176.30 253.90)" stroke="#5b78b0" stroke-width="0.07" >-log10 p-value</text>
<line x1="456.30" y1="21.50" x2="456.30" y2="91.10" stroke="#111" stroke-width="1.1"/>
<line x1="455.80" y1="90.60" x2="505.40" y2="90.60" stroke="#111" stroke-width="1.1"/>
<line x1="453.40" y1="90.60" x2="456.30" y2="90.60" stroke="#111" stroke-width="0.9"/>
<text x="449.80" y="93.00" font-size="6.8" text-anchor="end" fill="#222" stroke="#222" stroke-width="0.07" >0</text>
<line x1="453.40" y1="68.47" x2="456.30" y2="68.47" stroke="#111" stroke-width="0.9"/>
<text x="449.80" y="70.87" font-size="6.8" text-anchor="end" fill="#222" stroke="#222" stroke-width="0.07" >100</text>
<line x1="453.40" y1="46.34" x2="456.30" y2="46.34" stroke="#111" stroke-width="0.9"/>
<text x="449.80" y="48.74" font-size="6.8" text-anchor="end" fill="#222" stroke="#222" stroke-width="0.07" >200</text>
<line x1="453.40" y1="24.21" x2="456.30" y2="24.21" stroke="#111" stroke-width="0.9"/>
<text x="449.80" y="26.61" font-size="6.8" text-anchor="end" fill="#222" stroke="#222" stroke-width="0.07" >300</text>
<line x1="467.70" y1="90.60" x2="467.70" y2="93.40" stroke="#111" stroke-width="0.9"/>
<line x1="494.70" y1="90.60" x2="494.70" y2="93.40" stroke="#111" stroke-width="0.9"/>
<rect x="460.25" y="90.33" width="6.30" height="0.27" fill="#e08e1b" />
<line x1="463.40" y1="90.20" x2="463.40" y2="90.47" stroke="#111" stroke-width="0.8"/>
<line x1="461.60" y1="90.20" x2="465.20" y2="90.20" stroke="#111" stroke-width="0.8"/>
<rect x="468.65" y="90.47" width="6.30" height="0.13" fill="#b0163c" />
<line x1="471.80" y1="90.40" x2="471.80" y2="90.53" stroke="#111" stroke-width="0.8"/>
<line x1="470.00" y1="90.40" x2="473.60" y2="90.40" stroke="#111" stroke-width="0.8"/>
<rect x="486.55" y="35.05" width="6.30" height="55.55" fill="#e08e1b" />
<line x1="489.70" y1="29.74" x2="489.70" y2="40.36" stroke="#111" stroke-width="0.8"/>
<line x1="487.90" y1="29.74" x2="491.50" y2="29.74" stroke="#111" stroke-width="0.8"/>
<rect x="496.45" y="90.27" width="6.30" height="0.33" fill="#b0163c" />
<line x1="499.60" y1="90.09" x2="499.60" y2="90.45" stroke="#111" stroke-width="0.8"/>
<line x1="497.80" y1="90.09" x2="501.40" y2="90.09" stroke="#111" stroke-width="0.8"/>
<text x="468.20" y="103.40" font-size="7.4" text-anchor="middle" fill="#222" font-style="italic" stroke="#222" stroke-width="0.07" >f/f</text>
<text x="494.40" y="103.40" font-size="7.6" text-anchor="middle" fill="#222" font-style="italic" textLength="15.40" lengthAdjust="spacingAndGlyphs" stroke="#222" stroke-width="0.07" font-family="Liberation Serif">ΔIEC</text>
<rect x="450.20" y="112.80" width="6.80" height="4.60" fill="#e08e1b" />
<text x="459.60" y="117.10" font-size="5.8" text-anchor="start" fill="#222" stroke="#222" stroke-width="0.07" >(-)</text>
<rect x="475.60" y="112.80" width="6.80" height="4.60" fill="#b0163c" />
<text x="485.20" y="117.10" font-size="5.8" text-anchor="start" fill="#222" textLength="27.00" lengthAdjust="spacingAndGlyphs" stroke="#222" stroke-width="0.07" >Ruxolitinib</text>
<text x="423.80" y="56.20" font-size="8.3" text-anchor="middle" fill="#222" textLength="55.30" lengthAdjust="spacingAndGlyphs" transform="rotate(-90 423.80 56.20)" stroke="#222" stroke-width="0.07" ><tspan font-style="italic">oasl2/actb</tspan> (x10<tspan font-size="5.2" dy="-3">4</tspan><tspan dy="3">)</tspan></text>
<text x="433.10" y="56.80" font-size="8.3" text-anchor="middle" fill="#222" textLength="58.00" lengthAdjust="spacingAndGlyphs" transform="rotate(-90 433.10 56.80)" stroke="#222" stroke-width="0.07" >(normalized ratio)</text>
<line x1="456.30" y1="128.50" x2="456.30" y2="198.00" stroke="#111" stroke-width="1.1"/>
<line x1="455.80" y1="197.50" x2="505.40" y2="197.50" stroke="#111" stroke-width="1.1"/>
<line x1="453.40" y1="197.50" x2="456.30" y2="197.50" stroke="#111" stroke-width="0.9"/>
<text x="449.80" y="199.90" font-size="6.8" text-anchor="end" fill="#222" stroke="#222" stroke-width="0.07" >0</text>
<line x1="453.40" y1="184.30" x2="456.30" y2="184.30" stroke="#111" stroke-width="0.9"/>
<text x="449.80" y="186.70" font-size="6.8" text-anchor="end" fill="#222" stroke="#222" stroke-width="0.07" >20</text>
<line x1="453.40" y1="171.10" x2="456.30" y2="171.10" stroke="#111" stroke-width="0.9"/>
<text x="449.80" y="173.50" font-size="6.8" text-anchor="end" fill="#222" stroke="#222" stroke-width="0.07" >40</text>
<line x1="453.40" y1="157.90" x2="456.30" y2="157.90" stroke="#111" stroke-width="0.9"/>
<text x="449.80" y="160.30" font-size="6.8" text-anchor="end" fill="#222" stroke="#222" stroke-width="0.07" >60</text>
<line x1="453.40" y1="144.70" x2="456.30" y2="144.70" stroke="#111" stroke-width="0.9"/>
<text x="449.80" y="147.10" font-size="6.8" text-anchor="end" fill="#222" stroke="#222" stroke-width="0.07" >80</text>
<line x1="453.40" y1="131.50" x2="456.30" y2="131.50" stroke="#111" stroke-width="0.9"/>
<text x="449.80" y="133.90" font-size="6.8" text-anchor="end" fill="#222" stroke="#222" stroke-width="0.07" >100</text>
<line x1="467.70" y1="197.50" x2="467.70" y2="200.30" stroke="#111" stroke-width="0.9"/>
<line x1="494.70" y1="197.50" x2="494.70" y2="200.30" stroke="#111" stroke-width="0.9"/>
<rect x="460.25" y="196.84" width="6.30" height="0.66" fill="#e08e1b" />
<line x1="463.40" y1="196.51" x2="463.40" y2="197.17" stroke="#111" stroke-width="0.8"/>
<line x1="461.60" y1="196.51" x2="465.20" y2="196.51" stroke="#111" stroke-width="0.8"/>
<rect x="468.65" y="194.86" width="6.30" height="2.64" fill="#b0163c" />
<line x1="471.80" y1="194.46" x2="471.80" y2="195.26" stroke="#111" stroke-width="0.8"/>
<line x1="470.00" y1="194.46" x2="473.60" y2="194.46" stroke="#111" stroke-width="0.8"/>
<rect x="486.55" y="152.62" width="6.30" height="44.88" fill="#e08e1b" />
<line x1="489.70" y1="151.30" x2="489.70" y2="153.94" stroke="#111" stroke-width="0.8"/>
<line x1="487.90" y1="151.30" x2="491.50" y2="151.30" stroke="#111" stroke-width="0.8"/>
<rect x="496.45" y="191.23" width="6.30" height="6.27" fill="#b0163c" />
<line x1="499.60" y1="190.44" x2="499.60" y2="192.02" stroke="#111" stroke-width="0.8"/>
<line x1="497.80" y1="190.44" x2="501.40" y2="190.44" stroke="#111" stroke-width="0.8"/>
<text x="468.20" y="210.30" font-size="7.4" text-anchor="middle" fill="#222" font-style="italic" stroke="#222" stroke-width="0.07" >f/f</text>
<text x="494.40" y="210.30" font-size="7.6" text-anchor="middle" fill="#222" font-style="italic" textLength="15.40" lengthAdjust="spacingAndGlyphs" stroke="#222" stroke-width="0.07" font-family="Liberation Serif">ΔIEC</text>
<rect x="450.20" y="219.70" width="6.80" height="4.60" fill="#e08e1b" />
<text x="459.60" y="224.00" font-size="5.8" text-anchor="start" fill="#222" stroke="#222" stroke-width="0.07" >(-)</text>
<rect x="475.60" y="219.70" width="6.80" height="4.60" fill="#b0163c" />
<text x="485.20" y="224.00" font-size="5.8" text-anchor="start" fill="#222" textLength="27.00" lengthAdjust="spacingAndGlyphs" stroke="#222" stroke-width="0.07" >Ruxolitinib</text>
<text x="423.80" y="162.90" font-size="8.3" text-anchor="middle" fill="#222" textLength="57.90" lengthAdjust="spacingAndGlyphs" transform="rotate(-90 423.80 162.90)" stroke="#222" stroke-width="0.07" ><tspan font-style="italic">isg15/actb</tspan> (x10<tspan font-size="5.2" dy="-3">2</tspan><tspan dy="3">)</tspan></text>
<text x="433.10" y="163.50" font-size="8.3" text-anchor="middle" fill="#222" textLength="58.00" lengthAdjust="spacingAndGlyphs" transform="rotate(-90 433.10 163.50)" stroke="#222" stroke-width="0.07" >(normalized ratio)</text>
<line x1="456.30" y1="235.40" x2="456.30" y2="305.30" stroke="#111" stroke-width="1.1"/>
<line x1="455.80" y1="304.80" x2="505.40" y2="304.80" stroke="#111" stroke-width="1.1"/>
<line x1="453.40" y1="304.80" x2="456.30" y2="304.80" stroke="#111" stroke-width="0.9"/>
<text x="449.80" y="307.20" font-size="6.8" text-anchor="end" fill="#222" stroke="#222" stroke-width="0.07" >0</text>
<line x1="453.40" y1="282.54" x2="456.30" y2="282.54" stroke="#111" stroke-width="0.9"/>
<text x="449.80" y="284.94" font-size="6.8" text-anchor="end" fill="#222" stroke="#222" stroke-width="0.07" >10</text>
<line x1="453.40" y1="260.28" x2="456.30" y2="260.28" stroke="#111" stroke-width="0.9"/>
<text x="449.80" y="262.68" font-size="6.8" text-anchor="end" fill="#222" stroke="#222" stroke-width="0.07" >20</text>
<line x1="453.40" y1="238.02" x2="456.30" y2="238.02" stroke="#111" stroke-width="0.9"/>
<text x="449.80" y="240.42" font-size="6.8" text-anchor="end" fill="#222" stroke="#222" stroke-width="0.07" >30</text>
<line x1="467.70" y1="304.80" x2="467.70" y2="307.60" stroke="#111" stroke-width="0.9"/>
<line x1="494.70" y1="304.80" x2="494.70" y2="307.60" stroke="#111" stroke-width="0.9"/>
<rect x="460.25" y="303.24" width="6.30" height="1.56" fill="#e08e1b" />
<line x1="463.40" y1="302.91" x2="463.40" y2="303.58" stroke="#111" stroke-width="0.8"/>
<line x1="461.60" y1="302.91" x2="465.20" y2="302.91" stroke="#111" stroke-width="0.8"/>
<rect x="468.65" y="303.46" width="6.30" height="1.34" fill="#b0163c" />
<line x1="471.80" y1="303.13" x2="471.80" y2="303.80" stroke="#111" stroke-width="0.8"/>
<line x1="470.00" y1="303.13" x2="473.60" y2="303.13" stroke="#111" stroke-width="0.8"/>
<rect x="486.55" y="253.16" width="6.30" height="51.64" fill="#e08e1b" />
<line x1="489.70" y1="252.49" x2="489.70" y2="253.82" stroke="#111" stroke-width="0.8"/>
<line x1="487.90" y1="252.49" x2="491.50" y2="252.49" stroke="#111" stroke-width="0.8"/>
<rect x="496.45" y="297.23" width="6.30" height="7.57" fill="#b0163c" />
<line x1="499.60" y1="296.56" x2="499.60" y2="297.90" stroke="#111" stroke-width="0.8"/>
<line x1="497.80" y1="296.56" x2="501.40" y2="296.56" stroke="#111" stroke-width="0.8"/>
<text x="468.20" y="316.80" font-size="7.4" text-anchor="middle" fill="#222" font-style="italic" stroke="#222" stroke-width="0.07" >f/f</text>
<text x="494.40" y="316.80" font-size="7.6" text-anchor="middle" fill="#222" font-style="italic" textLength="15.40" lengthAdjust="spacingAndGlyphs" stroke="#222" stroke-width="0.07" font-family="Liberation Serif">ΔIEC</text>
<rect x="450.20" y="326.50" width="6.80" height="4.60" fill="#e08e1b" />
<text x="459.60" y="330.80" font-size="5.8" text-anchor="start" fill="#222" stroke="#222" stroke-width="0.07" >(-)</text>
<rect x="475.60" y="326.50" width="6.80" height="4.60" fill="#b0163c" />
<text x="485.20" y="330.80" font-size="5.8" text-anchor="start" fill="#222" textLength="27.00" lengthAdjust="spacingAndGlyphs" stroke="#222" stroke-width="0.07" >Ruxolitinib</text>
<text x="427.40" y="269.90" font-size="8.3" text-anchor="middle" fill="#222" textLength="57.90" lengthAdjust="spacingAndGlyphs" transform="rotate(-90 427.40 269.90)" stroke="#222" stroke-width="0.07" ><tspan font-style="italic">apol9a/actb</tspan> (x10)</text>
<text x="436.50" y="270.50" font-size="8.3" text-anchor="middle" fill="#222" textLength="58.00" lengthAdjust="spacingAndGlyphs" transform="rotate(-90 436.50 270.50)" stroke="#222" stroke-width="0.07" >(normalized ratio)</text>
<rect x="55.10" y="407.03" width="7.80" height="65.07" fill="#f0c07c" />
<rect x="67.00" y="412.05" width="7.80" height="60.05" fill="#d88a86" />
<rect x="78.75" y="408.27" width="7.80" height="63.83" fill="#8591bb" />
<rect x="90.65" y="416.12" width="7.80" height="55.98" fill="#a5896a" />
<rect x="110.10" y="421.06" width="7.80" height="51.04" fill="#f0c07c" />
<rect x="122.10" y="448.47" width="7.80" height="23.63" fill="#d88a86" />
<rect x="133.90" y="417.28" width="7.80" height="54.82" fill="#8591bb" />
<rect x="145.90" y="427.10" width="7.80" height="45.00" fill="#a5896a" />
<line x1="51.00" y1="391.80" x2="51.00" y2="472.60" stroke="#111" stroke-width="1.1"/>
<line x1="50.50" y1="472.10" x2="157.80" y2="472.10" stroke="#111" stroke-width="1.1"/>
<line x1="48.20" y1="472.10" x2="51.00" y2="472.10" stroke="#111" stroke-width="0.9"/>
<text x="45.40" y="474.50" font-size="6.8" text-anchor="end" fill="#222" stroke="#222" stroke-width="0.07" >0</text>
<line x1="48.20" y1="435.75" x2="51.00" y2="435.75" stroke="#111" stroke-width="0.9"/>
<text x="45.40" y="438.15" font-size="6.8" text-anchor="end" fill="#222" stroke="#222" stroke-width="0.07" >50</text>
<line x1="48.20" y1="399.40" x2="51.00" y2="399.40" stroke="#111" stroke-width="0.9"/>
<text x="45.40" y="401.80" font-size="6.8" text-anchor="end" fill="#222" stroke="#222" stroke-width="0.07" >100</text>
<line x1="76.80" y1="472.10" x2="76.80" y2="474.90" stroke="#111" stroke-width="0.9"/>
<line x1="131.90" y1="472.10" x2="131.90" y2="474.90" stroke="#111" stroke-width="0.9"/>
<line x1="59.00" y1="401.40" x2="59.00" y2="409.20" stroke="#e28e16" stroke-width="0.7"/>
<circle cx="59.00" cy="400.90" r="1.85" fill="#e28e16" />
<circle cx="62.20" cy="406.20" r="1.85" fill="#e28e16" />
<circle cx="56.90" cy="409.70" r="1.85" fill="#e28e16" />
<line x1="70.90" y1="408.40" x2="70.90" y2="413.10" stroke="#b3123a" stroke-width="0.7"/>
<rect x="67.75" y="406.05" width="3.70" height="3.70" fill="#b3123a" />
<rect x="69.85" y="408.15" width="3.70" height="3.70" fill="#b3123a" />
<rect x="68.75" y="411.75" width="3.70" height="3.70" fill="#b3123a" />
<line x1="82.65" y1="402.30" x2="82.65" y2="415.20" stroke="#22458e" stroke-width="0.7"/>
<path d="M79.60,399.58 L81.73,403.28 L77.47,403.28Z" fill="#22458e"/>
<path d="M84.40,402.48 L86.53,406.18 L82.27,406.18Z" fill="#22458e"/>
<path d="M82.60,413.48 L84.73,417.18 L80.47,417.18Z" fill="#22458e"/>
<line x1="94.55" y1="413.10" x2="94.55" y2="419.20" stroke="#5a3512" stroke-width="0.7"/>
<path d="M91.30,410.20 L93.70,412.60 L91.30,415.00 L88.89,412.60Z" fill="#5a3512"/>
<path d="M96.30,410.50 L98.70,412.90 L96.30,415.30 L93.89,412.90Z" fill="#5a3512"/>
<path d="M94.20,417.30 L96.61,419.70 L94.20,422.10 L91.80,419.70Z" fill="#5a3512"/>
<line x1="114.00" y1="417.30" x2="114.00" y2="421.20" stroke="#e28e16" stroke-width="0.7"/>
<circle cx="112.90" cy="416.80" r="1.85" fill="#e28e16" />
<circle cx="115.10" cy="419.70" r="1.85" fill="#e28e16" />
<circle cx="114.00" cy="421.70" r="1.85" fill="#e28e16" />
<line x1="126.00" y1="443.50" x2="126.00" y2="448.90" stroke="#b3123a" stroke-width="0.7"/>
<rect x="124.15" y="441.15" width="3.70" height="3.70" fill="#b3123a" />
<rect x="127.25" y="444.15" width="3.70" height="3.70" fill="#b3123a" />
<rect x="121.95" y="447.55" width="3.70" height="3.70" fill="#b3123a" />
<line x1="137.80" y1="414.20" x2="137.80" y2="421.20" stroke="#22458e" stroke-width="0.7"/>
<path d="M134.80,411.48 L136.93,415.18 L132.67,415.18Z" fill="#22458e"/>
<path d="M140.10,411.68 L142.23,415.38 L137.97,415.38Z" fill="#22458e"/>
<path d="M137.80,419.48 L139.93,423.18 L135.67,423.18Z" fill="#22458e"/>
<line x1="149.80" y1="422.90" x2="149.80" y2="427.20" stroke="#5a3512" stroke-width="0.7"/>
<path d="M148.40,420.00 L150.81,422.40 L148.40,424.80 L146.00,422.40Z" fill="#5a3512"/>
<path d="M150.30,423.20 L152.71,425.60 L150.30,428.00 L147.90,425.60Z" fill="#5a3512"/>
<path d="M149.40,425.30 L151.81,427.70 L149.40,430.10 L147.00,427.70Z" fill="#5a3512"/>
<line x1="114.30" y1="409.20" x2="126.70" y2="409.20" stroke="#444" stroke-width="1.1"/>
<text x="120.60" y="409.80" font-size="6.2" text-anchor="middle" fill="#222" stroke="#222" stroke-width="0.07" >****</text>
<line x1="126.20" y1="396.70" x2="150.00" y2="396.70" stroke="#444" stroke-width="1.1"/>
<text x="138.10" y="397.30" font-size="6.2" text-anchor="middle" fill="#222" stroke="#222" stroke-width="0.07" >***</text>
<text x="77.30" y="485.00" font-size="7.5" text-anchor="middle" fill="#222" font-style="italic" stroke="#222" stroke-width="0.07" >f/f</text>
<text x="132.20" y="485.00" font-size="7.5" text-anchor="middle" fill="#222" font-style="italic" textLength="14.70" lengthAdjust="spacingAndGlyphs" stroke="#222" stroke-width="0.07" >ΔIEC</text>
<text x="27.50" y="466.20" font-size="8.6" text-anchor="start" fill="#222" textLength="68.70" lengthAdjust="spacingAndGlyphs" transform="rotate(-90 27.50 466.20)" stroke="#222" stroke-width="0.07" >Organoid viability (%)</text>
<rect x="57.40" y="496.90" width="6.90" height="5.20" fill="#e28e16" />
<text x="67.90" y="501.50" font-size="5.8" text-anchor="start" fill="#222" stroke="#222" stroke-width="0.07" >(-)</text>
<rect x="92.20" y="496.90" width="6.90" height="5.20" fill="#22458e" />
<text x="102.70" y="501.50" font-size="5.8" text-anchor="start" fill="#222" textLength="27.00" lengthAdjust="spacingAndGlyphs" stroke="#222" stroke-width="0.07" >Ruxolitinib</text>
<rect x="57.40" y="506.60" width="6.90" height="5.20" fill="#b3123a" />
<text x="67.90" y="511.20" font-size="5.8" text-anchor="start" fill="#222" textLength="13.60" lengthAdjust="spacingAndGlyphs" stroke="#222" stroke-width="0.07" >TNFα</text>
<rect x="92.20" y="506.60" width="6.90" height="5.20" fill="#5a3512" />
<text x="102.70" y="511.20" font-size="5.8" text-anchor="start" fill="#222" textLength="44.60" lengthAdjust="spacingAndGlyphs" stroke="#222" stroke-width="0.07" >TNFα+Ruxolitinib</text>
<rect x="427.10" y="406.13" width="6.80" height="64.97" fill="#f0c07c" />
<circle cx="428.60" cy="406.43" r="1.70" fill="#e28e16" />
<circle cx="430.50" cy="405.63" r="1.70" fill="#e28e16" />
<circle cx="432.40" cy="406.53" r="1.70" fill="#e28e16" />
<rect x="438.70" y="407.45" width="6.80" height="63.65" fill="#d88a86" />
<rect x="438.50" y="406.05" width="3.40" height="3.40" fill="#b3123a" />
<rect x="440.40" y="405.25" width="3.40" height="3.40" fill="#b3123a" />
<rect x="442.30" y="406.15" width="3.40" height="3.40" fill="#b3123a" />
<rect x="449.80" y="407.45" width="6.80" height="63.65" fill="#8591bb" />
<path d="M451.30,405.71 L453.25,409.11 L449.35,409.11Z" fill="#22458e"/>
<path d="M453.20,404.91 L455.15,408.31 L451.25,408.31Z" fill="#22458e"/>
<path d="M455.10,405.81 L457.05,409.21 L453.14,409.21Z" fill="#22458e"/>
<rect x="469.40" y="418.72" width="6.80" height="52.38" fill="#f0c07c" />
<circle cx="470.90" cy="419.02" r="1.70" fill="#e28e16" />
<circle cx="472.80" cy="418.22" r="1.70" fill="#e28e16" />
<circle cx="474.70" cy="419.12" r="1.70" fill="#e28e16" />
<rect x="480.60" y="441.93" width="6.80" height="29.17" fill="#d88a86" />
<rect x="480.40" y="440.53" width="3.40" height="3.40" fill="#b3123a" />
<rect x="482.30" y="439.73" width="3.40" height="3.40" fill="#b3123a" />
<rect x="484.20" y="440.63" width="3.40" height="3.40" fill="#b3123a" />
<rect x="491.60" y="417.40" width="6.80" height="53.70" fill="#8591bb" />
<path d="M493.10,415.66 L495.06,419.06 L491.15,419.06Z" fill="#22458e"/>
<path d="M495.00,414.86 L496.95,418.26 L493.05,418.26Z" fill="#22458e"/>
<path d="M496.90,415.76 L498.85,419.16 L494.94,419.16Z" fill="#22458e"/>
<line x1="422.50" y1="391.60" x2="422.50" y2="471.60" stroke="#111" stroke-width="1.1"/>
<line x1="422.00" y1="471.10" x2="502.70" y2="471.10" stroke="#111" stroke-width="1.1"/>
<line x1="419.70" y1="471.10" x2="422.50" y2="471.10" stroke="#111" stroke-width="0.9"/>
<text x="416.50" y="473.50" font-size="6.8" text-anchor="end" fill="#222" stroke="#222" stroke-width="0.07" >0</text>
<line x1="419.70" y1="437.95" x2="422.50" y2="437.95" stroke="#111" stroke-width="0.9"/>
<text x="416.50" y="440.35" font-size="6.8" text-anchor="end" fill="#222" stroke="#222" stroke-width="0.07" >50</text>
<line x1="419.70" y1="404.80" x2="422.50" y2="404.80" stroke="#111" stroke-width="0.9"/>
<text x="416.50" y="407.20" font-size="6.8" text-anchor="end" fill="#222" stroke="#222" stroke-width="0.07" >100</text>
<line x1="442.10" y1="471.10" x2="442.10" y2="473.90" stroke="#111" stroke-width="0.9"/>
<line x1="484.00" y1="471.10" x2="484.00" y2="473.90" stroke="#111" stroke-width="0.9"/>
<line x1="472.40" y1="411.40" x2="484.80" y2="411.40" stroke="#444" stroke-width="1.1"/>
<text x="478.60" y="412.00" font-size="6.2" text-anchor="middle" fill="#222" stroke="#222" stroke-width="0.07" >**</text>
<line x1="483.90" y1="403.40" x2="496.00" y2="403.40" stroke="#444" stroke-width="1.1"/>
<text x="490.00" y="404.00" font-size="6.2" text-anchor="middle" fill="#222" stroke="#222" stroke-width="0.07" >**</text>
<text x="442.10" y="481.20" font-size="7.5" text-anchor="middle" fill="#222" font-style="italic" stroke="#222" stroke-width="0.07" >f/f</text>
<text x="483.50" y="481.20" font-size="7.5" text-anchor="middle" fill="#222" font-style="italic" textLength="14.70" lengthAdjust="spacingAndGlyphs" stroke="#222" stroke-width="0.07" >ΔIEC</text>
<text x="399.70" y="465.60" font-size="9.0" text-anchor="start" fill="#222" textLength="68.70" lengthAdjust="spacingAndGlyphs" transform="rotate(-90 399.70 465.60)" stroke="#222" stroke-width="0.07" >Organoid viability (%)</text>
<rect x="426.20" y="493.90" width="7.00" height="5.20" fill="#e28e16" />
<text x="436.80" y="498.50" font-size="5.8" text-anchor="start" fill="#222" stroke="#222" stroke-width="0.07" >(-)</text>
<rect x="460.90" y="493.90" width="7.00" height="5.20" fill="#22458e" />
<text x="471.50" y="498.50" font-size="5.8" text-anchor="start" fill="#222" textLength="27.40" lengthAdjust="spacingAndGlyphs" stroke="#222" stroke-width="0.07" >TNFα/2-AP</text>
<rect x="426.20" y="503.20" width="7.00" height="5.20" fill="#b3123a" />
<text x="436.80" y="507.80" font-size="5.8" text-anchor="start" fill="#222" textLength="13.60" lengthAdjust="spacingAndGlyphs" stroke="#222" stroke-width="0.07" >TNFα</text>
<rect x="354.25" y="613.44" width="6.30" height="48.96" fill="#a28bb6" />
<rect x="365.75" y="604.80" width="6.30" height="57.60" fill="#d88a86" />
<rect x="376.85" y="602.64" width="6.30" height="59.76" fill="#8591bb" />
<rect x="395.85" y="644.62" width="6.30" height="17.78" fill="#a28bb6" />
<rect x="407.35" y="606.24" width="6.30" height="56.16" fill="#d88a86" />
<rect x="418.95" y="607.68" width="6.30" height="54.72" fill="#8591bb" />
<circle cx="355.60" cy="613.60" r="1.75" fill="#4e2266" />
<circle cx="357.60" cy="611.80" r="1.75" fill="#4e2266" />
<circle cx="359.70" cy="612.90" r="1.75" fill="#4e2266" />
<rect x="364.75" y="604.25" width="3.50" height="3.50" fill="#b0102f" />
<rect x="366.75" y="600.65" width="3.50" height="3.50" fill="#b0102f" />
<rect x="369.25" y="603.65" width="3.50" height="3.50" fill="#b0102f" />
<path d="M377.60,602.10 L379.61,605.60 L375.59,605.60Z" fill="#213f80"/>
<path d="M379.60,599.50 L381.61,603.00 L377.59,603.00Z" fill="#213f80"/>
<path d="M381.60,600.50 L383.61,604.00 L379.59,604.00Z" fill="#213f80"/>
<circle cx="397.60" cy="642.40" r="1.75" fill="#4e2266" />
<circle cx="401.20" cy="644.70" r="1.75" fill="#4e2266" />
<circle cx="398.50" cy="647.80" r="1.75" fill="#4e2266" />
<rect x="406.75" y="601.85" width="3.50" height="3.50" fill="#b0102f" />
<rect x="407.05" y="606.25" width="3.50" height="3.50" fill="#b0102f" />
<rect x="410.75" y="605.45" width="3.50" height="3.50" fill="#b0102f" />
<path d="M420.00,602.10 L422.01,605.60 L417.99,605.60Z" fill="#213f80"/>
<path d="M420.60,606.90 L422.61,610.40 L418.59,610.40Z" fill="#213f80"/>
<path d="M424.40,604.90 L426.41,608.40 L422.39,608.40Z" fill="#213f80"/>
<line x1="349.60" y1="582.80" x2="349.60" y2="662.90" stroke="#111" stroke-width="1.1"/>
<line x1="349.10" y1="662.40" x2="429.20" y2="662.40" stroke="#111" stroke-width="1.1"/>
<line x1="345.30" y1="662.40" x2="349.60" y2="662.40" stroke="#111" stroke-width="0.9"/>
<text x="342.80" y="664.80" font-size="6.8" text-anchor="end" fill="#222" stroke="#222" stroke-width="0.07" >0</text>
<line x1="345.30" y1="626.40" x2="349.60" y2="626.40" stroke="#111" stroke-width="0.9"/>
<text x="342.80" y="628.80" font-size="6.8" text-anchor="end" fill="#222" stroke="#222" stroke-width="0.07" >50</text>
<line x1="345.30" y1="590.40" x2="349.60" y2="590.40" stroke="#111" stroke-width="0.9"/>
<text x="342.80" y="592.80" font-size="6.8" text-anchor="end" fill="#222" stroke="#222" stroke-width="0.07" >100</text>
<line x1="357.00" y1="579.30" x2="398.50" y2="579.30" stroke="#444" stroke-width="1.1"/>
<text x="377.75" y="579.90" font-size="6.2" text-anchor="middle" fill="#222" stroke="#222" stroke-width="0.07" >****</text>
<line x1="357.00" y1="588.10" x2="380.10" y2="588.10" stroke="#444" stroke-width="1.1"/>
<text x="368.55" y="588.70" font-size="6.2" text-anchor="middle" fill="#222" stroke="#222" stroke-width="0.07" >***</text>
<line x1="357.00" y1="596.60" x2="368.50" y2="596.60" stroke="#444" stroke-width="1.1"/>
<text x="362.75" y="597.20" font-size="6.2" text-anchor="middle" fill="#222" stroke="#222" stroke-width="0.07" >**</text>
<line x1="399.90" y1="588.50" x2="423.00" y2="588.50" stroke="#444" stroke-width="1.1"/>
<text x="411.45" y="589.10" font-size="6.2" text-anchor="middle" fill="#222" stroke="#222" stroke-width="0.07" >****</text>
<line x1="399.90" y1="597.80" x2="410.80" y2="597.80" stroke="#444" stroke-width="1.1"/>
<text x="405.35" y="598.40" font-size="6.2" text-anchor="middle" fill="#222" stroke="#222" stroke-width="0.07" >****</text>
<text x="368.60" y="672.20" font-size="6.6" text-anchor="middle" fill="#222" stroke="#222" stroke-width="0.07" >(-)</text>
<text x="410.50" y="672.20" font-size="6.6" text-anchor="middle" fill="#222" textLength="15.00" lengthAdjust="spacingAndGlyphs" stroke="#222" stroke-width="0.07" >TNFα</text>
<text x="327.00" y="657.50" font-size="9.3" text-anchor="start" fill="#222" textLength="70.00" lengthAdjust="spacingAndGlyphs" transform="rotate(-90 327.00 657.50)" stroke="#222" stroke-width="0.07" >Organoid viability (%)</text>
<rect x="361.90" y="683.20" width="7.00" height="5.60" fill="#4e2266" />
<text x="372.00" y="688.00" font-size="5.9" text-anchor="start" fill="#222" font-style="italic" textLength="38.00" lengthAdjust="spacingAndGlyphs" stroke="#222" stroke-width="0.07" >control shRNA</text>
<rect x="361.90" y="692.40" width="7.00" height="5.60" fill="#b0102f" />
<text x="372.00" y="697.20" font-size="5.9" text-anchor="start" fill="#222" font-style="italic" textLength="45.60" lengthAdjust="spacingAndGlyphs" stroke="#222" stroke-width="0.07" ><tspan font-style="italic">eif2ak2</tspan> shRNA 51</text>
<rect x="361.90" y="701.30" width="7.00" height="5.60" fill="#213f80" />
<text x="372.00" y="706.10" font-size="5.9" text-anchor="start" fill="#222" font-style="italic" textLength="45.60" lengthAdjust="spacingAndGlyphs" stroke="#222" stroke-width="0.07" ><tspan font-style="italic">eif2ak2</tspan> shRNA 52</text>
<defs>
<filter id="b1" x="-50%" y="-100%" width="200%" height="300%"><feGaussianBlur stdDeviation="0.9"/></filter>
<filter id="b2" x="-50%" y="-100%" width="200%" height="300%"><feGaussianBlur stdDeviation="1.4"/></filter>
<filter id="b3" x="-50%" y="-50%" width="200%" height="200%"><feGaussianBlur stdDeviation="0.7"/></filter>
<filter id="b4" x="-50%" y="-50%" width="200%" height="200%"><feGaussianBlur stdDeviation="2.0"/></filter>
<linearGradient id="pkg" x1="0" y1="0" x2="0" y2="1"><stop offset="0" stop-color="#5a5a5a"/><stop offset="0.45" stop-color="#2a2a2a"/><stop offset="1" stop-color="#111"/></linearGradient>
<filter id="b5" x="-50%" y="-50%" width="200%" height="200%"><feGaussianBlur stdDeviation="0.45"/></filter>
</defs>
<text x="250.60" y="371.60" font-size="6.0" text-anchor="start" fill="#333" font-style="italic" textLength="5.80" lengthAdjust="spacingAndGlyphs" transform="rotate(-90 250.60 371.60)" stroke="#333" stroke-width="0.07" >f/f</text>
<text x="269.60" y="371.60" font-size="6.0" text-anchor="start" fill="#333" font-style="italic" textLength="14.20" lengthAdjust="spacingAndGlyphs" transform="rotate(-90 269.60 371.60)" stroke="#333" stroke-width="0.07" >ΔIEC</text>
<text x="289.40" y="371.60" font-size="6.0" text-anchor="start" fill="#333" font-style="italic" textLength="5.80" lengthAdjust="spacingAndGlyphs" transform="rotate(-90 289.40 371.60)" stroke="#333" stroke-width="0.07" >f/f</text>
<text x="309.00" y="371.60" font-size="6.0" text-anchor="start" fill="#333" font-style="italic" textLength="14.20" lengthAdjust="spacingAndGlyphs" transform="rotate(-90 309.00 371.60)" stroke="#333" stroke-width="0.07" >ΔIEC</text>
<text x="328.90" y="371.60" font-size="6.0" text-anchor="start" fill="#333" font-style="italic" textLength="5.80" lengthAdjust="spacingAndGlyphs" transform="rotate(-90 328.90 371.60)" stroke="#333" stroke-width="0.07" >f/f</text>
<text x="348.80" y="371.60" font-size="6.0" text-anchor="start" fill="#333" font-style="italic" textLength="14.20" lengthAdjust="spacingAndGlyphs" transform="rotate(-90 348.80 371.60)" stroke="#333" stroke-width="0.07" >ΔIEC</text>
<text x="235.40" y="380.60" font-size="6.8" text-anchor="end" fill="#222" textLength="17.20" lengthAdjust="spacingAndGlyphs" stroke="#222" stroke-width="0.07" >TNFα</text>
<text x="235.40" y="391.80" font-size="6.8" text-anchor="end" fill="#222" textLength="31.90" lengthAdjust="spacingAndGlyphs" stroke="#222" stroke-width="0.07" >Ruxolitinib</text>
<text x="248.60" y="380.60" font-size="6.4" text-anchor="middle" fill="#333" stroke="#333" stroke-width="0.07" >-</text>
<text x="248.60" y="391.80" font-size="6.4" text-anchor="middle" fill="#333" stroke="#333" stroke-width="0.07" >-</text>
<text x="267.60" y="380.60" font-size="6.4" text-anchor="middle" fill="#333" stroke="#333" stroke-width="0.07" >-</text>
<text x="267.60" y="391.80" font-size="6.4" text-anchor="middle" fill="#333" stroke="#333" stroke-width="0.07" >-</text>
<text x="287.40" y="380.60" font-size="6.4" text-anchor="middle" fill="#333" stroke="#333" stroke-width="0.07" >+</text>
<text x="287.40" y="391.80" font-size="6.4" text-anchor="middle" fill="#333" stroke="#333" stroke-width="0.07" >-</text>
<text x="307.00" y="380.60" font-size="6.4" text-anchor="middle" fill="#333" stroke="#333" stroke-width="0.07" >+</text>
<text x="307.00" y="391.80" font-size="6.4" text-anchor="middle" fill="#333" stroke="#333" stroke-width="0.07" >-</text>
<text x="326.90" y="380.60" font-size="6.4" text-anchor="middle" fill="#333" stroke="#333" stroke-width="0.07" >+</text>
<text x="326.90" y="391.80" font-size="6.4" text-anchor="middle" fill="#333" stroke="#333" stroke-width="0.07" >+</text>
<text x="346.80" y="380.60" font-size="6.4" text-anchor="middle" fill="#333" stroke="#333" stroke-width="0.07" >+</text>
<text x="346.80" y="391.80" font-size="6.4" text-anchor="middle" fill="#333" stroke="#333" stroke-width="0.07" >+</text>
<rect x="238.10" y="397.20" width="121.50" height="14.40" fill="#cacaca" />
<text x="235.40" y="407.70" font-size="7.2" text-anchor="end" fill="#1a1a1a" textLength="23.60" lengthAdjust="spacingAndGlyphs" stroke="#1a1a1a" stroke-width="0.07" >p-MLKL</text>
<rect x="238.10" y="412.30" width="120.70" height="17.90" fill="#b2b2b2" />
<text x="235.40" y="423.90" font-size="7.2" text-anchor="end" fill="#1a1a1a" textLength="17.10" lengthAdjust="spacingAndGlyphs" stroke="#1a1a1a" stroke-width="0.07" >MLKL</text>
<rect x="238.10" y="431.00" width="120.30" height="11.80" fill="#d2d2d2" />
<text x="235.40" y="439.60" font-size="7.2" text-anchor="end" fill="#1a1a1a" textLength="24.90" lengthAdjust="spacingAndGlyphs" stroke="#1a1a1a" stroke-width="0.07" >p-RIPK3</text>
<rect x="238.10" y="443.80" width="119.90" height="17.80" fill="#ececec" />
<text x="235.40" y="455.60" font-size="7.2" text-anchor="end" fill="#1a1a1a" textLength="18.20" lengthAdjust="spacingAndGlyphs" stroke="#1a1a1a" stroke-width="0.07" >RIPK3</text>
<rect x="238.10" y="462.80" width="119.90" height="18.60" fill="#e4e4e4" />
<text x="235.40" y="474.60" font-size="7.2" text-anchor="end" fill="#1a1a1a" textLength="12.40" lengthAdjust="spacingAndGlyphs" stroke="#1a1a1a" stroke-width="0.07" >PKR</text>
<rect x="238.10" y="482.40" width="119.70" height="14.60" fill="#d2d2d2" />
<text x="235.40" y="493.00" font-size="7.2" text-anchor="end" fill="#1a1a1a" textLength="16.00" lengthAdjust="spacingAndGlyphs" stroke="#1a1a1a" stroke-width="0.07" >ZBP1</text>
<rect x="238.10" y="498.30" width="119.90" height="19.90" fill="#f5f5f5" />
<text x="235.40" y="512.00" font-size="7.2" text-anchor="end" fill="#1a1a1a" textLength="28.10" lengthAdjust="spacingAndGlyphs" stroke="#1a1a1a" stroke-width="0.07" >ATG16L1</text>
<rect x="238.10" y="519.20" width="119.90" height="22.40" fill="#ebebeb" />
<text x="235.40" y="532.90" font-size="7.2" text-anchor="end" fill="#1a1a1a" textLength="20.30" lengthAdjust="spacingAndGlyphs" stroke="#1a1a1a" stroke-width="0.07" >ACTIN</text>
<rect x="243.30" y="401.50" width="14.00" height="4.00" rx="2.00" fill="#b2b2b2" opacity="0.55" filter="url(#b2)"/>
<rect x="262.80" y="401.50" width="14.00" height="4.00" rx="2.00" fill="#b2b2b2" opacity="0.55" filter="url(#b2)"/>
<rect x="281.40" y="401.50" width="14.00" height="4.00" rx="2.00" fill="#b2b2b2" opacity="0.55" filter="url(#b2)"/>
<rect x="318.60" y="401.50" width="14.00" height="4.00" rx="2.00" fill="#b2b2b2" opacity="0.55" filter="url(#b2)"/>
<rect x="337.80" y="401.50" width="14.00" height="4.00" rx="2.00" fill="#b2b2b2" opacity="0.55" filter="url(#b2)"/>
<rect x="302.80" y="398.30" width="13.00" height="5.00" rx="2.50" fill="#7a7a7a" opacity="0.75" filter="url(#b1)"/>
<rect x="303.00" y="402.90" width="12.60" height="3.40" rx="1.70" fill="#1a1a1a" opacity="1.0" filter="url(#b3)"/>
<rect x="304.30" y="404.40" width="10.00" height="1.80" rx="0.90" fill="#000" opacity="0.7" filter="url(#b5)"/>
<rect x="243.55" y="417.70" width="14.50" height="5.00" rx="2.50" fill="#8c8c8c" opacity="0.75" filter="url(#b2)"/>
<rect x="263.05" y="417.70" width="14.50" height="5.00" rx="2.50" fill="#8c8c8c" opacity="0.75" filter="url(#b2)"/>
<rect x="281.65" y="417.70" width="14.50" height="5.00" rx="2.50" fill="#8c8c8c" opacity="0.75" filter="url(#b2)"/>
<rect x="300.15" y="417.70" width="14.50" height="5.00" rx="2.50" fill="#8c8c8c" opacity="0.75" filter="url(#b2)"/>
<rect x="318.85" y="417.70" width="14.50" height="5.00" rx="2.50" fill="#8c8c8c" opacity="0.75" filter="url(#b2)"/>
<rect x="338.05" y="417.70" width="14.50" height="5.00" rx="2.50" fill="#8c8c8c" opacity="0.75" filter="url(#b2)"/>
<rect x="257.75" y="431.30" width="3.50" height="11.00" rx="5.50" fill="#e6e6e6" opacity="0.85" filter="url(#b1)"/>
<rect x="277.25" y="431.30" width="3.50" height="11.00" rx="5.50" fill="#e6e6e6" opacity="0.85" filter="url(#b1)"/>
<rect x="296.25" y="431.30" width="3.50" height="11.00" rx="5.50" fill="#e6e6e6" opacity="0.85" filter="url(#b1)"/>
<rect x="315.75" y="431.30" width="3.50" height="11.00" rx="5.50" fill="#e6e6e6" opacity="0.85" filter="url(#b1)"/>
<rect x="335.25" y="431.30" width="3.50" height="11.00" rx="5.50" fill="#e6e6e6" opacity="0.85" filter="url(#b1)"/>
<rect x="243.80" y="435.60" width="13.00" height="3.20" rx="1.60" fill="#b4b4b4" opacity="0.8" filter="url(#b2)"/>
<rect x="263.30" y="435.60" width="13.00" height="3.20" rx="1.60" fill="#b4b4b4" opacity="0.8" filter="url(#b2)"/>
<rect x="281.90" y="435.60" width="13.00" height="3.20" rx="1.60" fill="#b4b4b4" opacity="0.8" filter="url(#b2)"/>
<rect x="319.10" y="435.60" width="13.00" height="3.20" rx="1.60" fill="#b4b4b4" opacity="0.8" filter="url(#b2)"/>
<rect x="338.30" y="435.60" width="13.00" height="3.20" rx="1.60" fill="#b4b4b4" opacity="0.8" filter="url(#b2)"/>
<rect x="301.50" y="434.50" width="14.00" height="4.60" rx="2.30" fill="#121212" opacity="1.0" filter="url(#b5)"/>
<rect x="302.00" y="433.70" width="13.00" height="1.80" rx="0.90" fill="#666" opacity="0.7" filter="url(#b5)"/>
<rect x="240.40" y="451.20" width="17.40" height="6.60" rx="3.30" fill="#0c0c0c" opacity="1.0" filter="url(#b1)"/>
<rect x="259.00" y="450.80" width="19.40" height="7.40" rx="3.70" fill="#060606" opacity="1.0" filter="url(#b1)"/>
<rect x="277.40" y="451.80" width="17.20" height="5.40" rx="2.70" fill="#161616" opacity="1.0" filter="url(#b1)"/>
<rect x="298.20" y="451.90" width="16.80" height="5.20" rx="2.60" fill="#2a2a2a" opacity="1.0" filter="url(#b1)"/>
<rect x="316.80" y="451.50" width="18.80" height="6.00" rx="3.00" fill="#101010" opacity="1.0" filter="url(#b1)"/>
<rect x="337.60" y="451.30" width="18.00" height="6.40" rx="3.20" fill="#0c0c0c" opacity="1.0" filter="url(#b1)"/>
<rect x="243.10" y="468.10" width="14.20" height="9.00" rx="4.50" fill="url(#pkg)" opacity="1.0" filter="url(#b1)"/>
<rect x="243.00" y="471.94" width="14.40" height="4.73" rx="2.37" fill="#141414" opacity="0.9" filter="url(#b1)"/>
<rect x="261.50" y="467.10" width="16.60" height="11.00" rx="5.50" fill="url(#pkg)" opacity="1.0" filter="url(#b1)"/>
<rect x="261.40" y="471.38" width="16.80" height="5.83" rx="2.92" fill="#030303" opacity="0.9" filter="url(#b1)"/>
<rect x="281.80" y="468.40" width="14.80" height="8.40" rx="4.20" fill="url(#pkg)" opacity="1.0" filter="url(#b1)"/>
<rect x="281.70" y="472.10" width="15.00" height="4.40" rx="2.20" fill="#141414" opacity="0.9" filter="url(#b1)"/>
<rect x="300.10" y="468.30" width="14.60" height="8.60" rx="4.30" fill="url(#pkg)" opacity="1.0" filter="url(#b1)"/>
<rect x="300.00" y="472.05" width="14.80" height="4.51" rx="2.25" fill="#1a1a1a" opacity="0.9" filter="url(#b1)"/>
<rect x="319.20" y="468.70" width="14.40" height="7.80" rx="3.90" fill="url(#pkg)" opacity="1.0" filter="url(#b1)"/>
<rect x="319.10" y="472.26" width="14.60" height="4.07" rx="2.04" fill="#222" opacity="0.9" filter="url(#b1)"/>
<rect x="338.40" y="468.10" width="14.80" height="9.00" rx="4.50" fill="url(#pkg)" opacity="1.0" filter="url(#b1)"/>
<rect x="338.30" y="471.94" width="15.00" height="4.73" rx="2.37" fill="#0c0c0c" opacity="0.9" filter="url(#b1)"/>
<path d="M241.80,488.00 Q250.30,491.00 258.80,488.00" stroke="#1e1e1e" stroke-width="3.1" fill="none" opacity="0.95" filter="url(#b5)"/>
<rect x="242.80" y="489.10" width="15.00" height="3.00" rx="1.50" fill="#8a8a8a" opacity="0.6" filter="url(#b1)"/>
<path d="M261.30,488.00 Q269.80,491.00 278.30,488.00" stroke="#1e1e1e" stroke-width="3.1" fill="none" opacity="0.85" filter="url(#b5)"/>
<rect x="262.30" y="489.10" width="15.00" height="3.00" rx="1.50" fill="#8a8a8a" opacity="0.6" filter="url(#b1)"/>
<path d="M279.90,488.00 Q288.40,491.00 296.90,488.00" stroke="#1e1e1e" stroke-width="3.1" fill="none" opacity="0.9" filter="url(#b5)"/>
<rect x="280.90" y="489.10" width="15.00" height="3.00" rx="1.50" fill="#8a8a8a" opacity="0.6" filter="url(#b1)"/>
<path d="M298.40,488.00 Q306.90,491.00 315.40,488.00" stroke="#1e1e1e" stroke-width="3.1" fill="none" opacity="0.65" filter="url(#b5)"/>
<rect x="299.40" y="489.10" width="15.00" height="3.00" rx="1.50" fill="#8a8a8a" opacity="0.6" filter="url(#b1)"/>
<path d="M317.10,488.00 Q325.60,491.00 334.10,488.00" stroke="#1e1e1e" stroke-width="3.1" fill="none" opacity="0.85" filter="url(#b5)"/>
<rect x="318.10" y="489.10" width="15.00" height="3.00" rx="1.50" fill="#8a8a8a" opacity="0.6" filter="url(#b1)"/>
<path d="M336.30,488.00 Q344.80,491.00 353.30,488.00" stroke="#1e1e1e" stroke-width="3.1" fill="none" opacity="0.7" filter="url(#b5)"/>
<rect x="337.30" y="489.10" width="15.00" height="3.00" rx="1.50" fill="#8a8a8a" opacity="0.6" filter="url(#b1)"/>
<rect x="242.85" y="504.50" width="15.50" height="4.20" rx="2.10" fill="#8c8c8c" opacity="0.95" filter="url(#b1)"/>
<rect x="242.85" y="508.90" width="15.50" height="3.80" rx="1.90" fill="#6a6a6a" opacity="0.95" filter="url(#b1)"/>
<rect x="281.85" y="504.50" width="15.50" height="4.20" rx="2.10" fill="#8c8c8c" opacity="0.95" filter="url(#b1)"/>
<rect x="281.85" y="508.90" width="15.50" height="3.80" rx="1.90" fill="#6a6a6a" opacity="0.95" filter="url(#b1)"/>
<rect x="320.85" y="504.50" width="15.50" height="4.20" rx="2.10" fill="#8c8c8c" opacity="0.95" filter="url(#b1)"/>
<rect x="320.85" y="508.90" width="15.50" height="3.80" rx="1.90" fill="#6a6a6a" opacity="0.95" filter="url(#b1)"/>
<rect x="243.60" y="527.10" width="16.80" height="6.40" rx="3.20" fill="#060606" opacity="1.0" filter="url(#b1)"/>
<rect x="262.60" y="527.10" width="16.80" height="6.40" rx="3.20" fill="#060606" opacity="1.0" filter="url(#b1)"/>
<rect x="280.70" y="527.10" width="16.80" height="6.40" rx="3.20" fill="#060606" opacity="1.0" filter="url(#b1)"/>
<rect x="298.60" y="527.10" width="16.80" height="6.40" rx="3.20" fill="#060606" opacity="1.0" filter="url(#b1)"/>
<rect x="316.00" y="527.10" width="16.80" height="6.40" rx="3.20" fill="#060606" opacity="1.0" filter="url(#b1)"/>
<rect x="335.30" y="527.10" width="16.80" height="6.40" rx="3.20" fill="#060606" opacity="1.0" filter="url(#b1)"/>
<rect x="238.10" y="397.20" width="121.50" height="14.40" fill="none" stroke="#0a0a0a" stroke-width="1.6"/>
<rect x="238.10" y="412.30" width="120.70" height="17.90" fill="none" stroke="#0a0a0a" stroke-width="1.6"/>
<rect x="238.10" y="431.00" width="120.30" height="11.80" fill="none" stroke="#0a0a0a" stroke-width="1.6"/>
<rect x="238.10" y="443.80" width="119.90" height="17.80" fill="none" stroke="#0a0a0a" stroke-width="1.6"/>
<rect x="238.10" y="462.80" width="119.90" height="18.60" fill="none" stroke="#0a0a0a" stroke-width="1.6"/>
<rect x="238.10" y="482.40" width="119.70" height="14.60" fill="none" stroke="#0a0a0a" stroke-width="1.6"/>
<rect x="238.10" y="498.30" width="119.90" height="19.90" fill="none" stroke="#0a0a0a" stroke-width="1.6"/>
<rect x="238.10" y="519.20" width="119.90" height="22.40" fill="none" stroke="#0a0a0a" stroke-width="1.6"/>
<text x="82.70" y="580.90" font-size="7.2" text-anchor="middle" fill="#222" textLength="46.00" lengthAdjust="spacingAndGlyphs" stroke="#222" stroke-width="0.07" >control shRNA</text>
<text x="168.10" y="580.70" font-size="7.2" text-anchor="middle" fill="#222" textLength="53.40" lengthAdjust="spacingAndGlyphs" stroke="#222" stroke-width="0.07" ><tspan font-style="italic">eif2ak2</tspan> shRNA 51</text>
<text x="254.00" y="580.70" font-size="7.2" text-anchor="middle" fill="#222" textLength="53.60" lengthAdjust="spacingAndGlyphs" stroke="#222" stroke-width="0.07" ><tspan font-style="italic">eif2ak2</tspan> shRNA 52</text>
<text x="38.40" y="617.40" font-size="6.8" text-anchor="end" fill="#222" stroke="#222" stroke-width="0.07" >(-)</text>
<text x="38.00" y="682.30" font-size="7.0" text-anchor="end" fill="#222" textLength="17.00" lengthAdjust="spacingAndGlyphs" stroke="#222" stroke-width="0.07" >TNFα</text>
<defs>
<linearGradient id="hg1" x1="0" y1="1" x2="1" y2="0"><stop offset="0" stop-color="#dedede"/><stop offset="1" stop-color="#e9e9e9"/></linearGradient>
<clipPath id="hc1"><rect x="40.6" y="584.6" width="84.0" height="62.299999999999955"/></clipPath>
<filter id="gr1" x="0" y="0" width="100%" height="100%"><feTurbulence type="fractalNoise" baseFrequency="0.7" numOctaves="1" seed="11"/><feColorMatrix type="matrix" values="0 0 0 0 0.25  0 0 0 0 0.25  0 0 0 0 0.25  -1.4 0 0 0 0.72"/></filter>
<linearGradient id="hg2" x1="0" y1="1" x2="1" y2="0"><stop offset="0" stop-color="#e2e2e2"/><stop offset="1" stop-color="#ededed"/></linearGradient>
<clipPath id="hc2"><rect x="40.6" y="649.1" width="84.0" height="62.299999999999955"/></clipPath>
<filter id="gr2" x="0" y="0" width="100%" height="100%"><feTurbulence type="fractalNoise" baseFrequency="0.7" numOctaves="1" seed="22"/><feColorMatrix type="matrix" values="0 0 0 0 0.25  0 0 0 0 0.25  0 0 0 0 0.25  -1.3 0 0 0 0.66"/></filter>
<linearGradient id="hg3" x1="0" y1="1" x2="1" y2="0"><stop offset="0" stop-color="#dcdcdc"/><stop offset="1" stop-color="#e8e8e8"/></linearGradient>
<clipPath id="hc3"><rect x="126.4" y="584.6" width="83.19999999999999" height="62.299999999999955"/></clipPath>
<filter id="gr3" x="0" y="0" width="100%" height="100%"><feTurbulence type="fractalNoise" baseFrequency="0.7" numOctaves="1" seed="33"/><feColorMatrix type="matrix" values="0 0 0 0 0.25  0 0 0 0 0.25  0 0 0 0 0.25  -1.5 0 0 0 0.77"/></filter>
<linearGradient id="hg4" x1="0" y1="1" x2="1" y2="0"><stop offset="0" stop-color="#e0e0e0"/><stop offset="1" stop-color="#f2f2f2"/></linearGradient>
<clipPath id="hc4"><rect x="126.4" y="649.1" width="83.19999999999999" height="62.299999999999955"/></clipPath>
<filter id="gr4" x="0" y="0" width="100%" height="100%"><feTurbulence type="fractalNoise" baseFrequency="0.7" numOctaves="1" seed="44"/><feColorMatrix type="matrix" values="0 0 0 0 0.25  0 0 0 0 0.25  0 0 0 0 0.25  -1.2 0 0 0 0.6"/></filter>
<linearGradient id="hg5" x1="0" y1="1" x2="1" y2="0"><stop offset="0" stop-color="#eaeaea"/><stop offset="1" stop-color="#f4f4f4"/></linearGradient>
<clipPath id="hc5"><rect x="212.0" y="584.6" width="83.30000000000001" height="62.299999999999955"/></clipPath>
<filter id="gr5" x="0" y="0" width="100%" height="100%"><feTurbulence type="fractalNoise" baseFrequency="0.7" numOctaves="1" seed="55"/><feColorMatrix type="matrix" values="0 0 0 0 0.25  0 0 0 0 0.25  0 0 0 0 0.25  -0.9 0 0 0 0.44"/></filter>
<linearGradient id="hg6" x1="0" y1="1" x2="1" y2="0"><stop offset="0" stop-color="#ececec"/><stop offset="1" stop-color="#f6f6f6"/></linearGradient>
<clipPath id="hc6"><rect x="212.0" y="649.1" width="83.30000000000001" height="62.299999999999955"/></clipPath>
<filter id="gr6" x="0" y="0" width="100%" height="100%"><feTurbulence type="fractalNoise" baseFrequency="0.7" numOctaves="1" seed="66"/><feColorMatrix type="matrix" values="0 0 0 0 0.25  0 0 0 0 0.25  0 0 0 0 0.25  -0.8 0 0 0 0.39"/></filter>
<filter id="bb" x="-50%" y="-50%" width="200%" height="200%"><feGaussianBlur stdDeviation="1.1"/></filter>
</defs>
<rect x="40.60" y="584.60" width="84.00" height="62.30" fill="url(#hg1)" />
<rect x="40.60" y="584.60" width="84.00" height="62.30" fill="#000" filter="url(#gr1)"/>
<g clip-path="url(#hc1)">
<circle cx="68.15" cy="594.70" r="1.10" fill="#464646" opacity="0.48" filter="url(#b5)"/>
<circle cx="85.54" cy="607.65" r="0.50" fill="#808080" opacity="0.54" filter="url(#b5)"/>
<circle cx="48.65" cy="610.82" r="0.60" fill="#4b4b4b" opacity="0.67" filter="url(#b5)"/>
<circle cx="46.45" cy="619.70" r="0.60" fill="#909090" opacity="0.70" filter="url(#b5)"/>
<circle cx="119.31" cy="620.40" r="0.80" fill="#464646" opacity="0.84" filter="url(#b5)"/>
<circle cx="45.42" cy="637.37" r="0.70" fill="#757575" opacity="0.51" filter="url(#b5)"/>
<circle cx="51.26" cy="604.20" r="1.10" fill="#575757" opacity="0.49" filter="url(#b5)"/>
<circle cx="88.44" cy="596.93" r="0.50" fill="#868686" opacity="0.73" filter="url(#b5)"/>
<circle cx="87.88" cy="622.93" r="0.80" fill="#848484" opacity="0.62" filter="url(#b5)"/>
<circle cx="67.36" cy="620.91" r="0.80" fill="#6e6e6e" opacity="0.57" filter="url(#b5)"/>
<circle cx="106.74" cy="627.75" r="0.60" fill="#4a4a4a" opacity="0.68" filter="url(#b5)"/>
<circle cx="84.67" cy="638.37" r="1.10" fill="#797979" opacity="0.57" filter="url(#b5)"/>
<circle cx="121.97" cy="592.72" r="0.80" fill="#555555" opacity="0.75" filter="url(#b5)"/>
<circle cx="54.06" cy="615.08" r="0.50" fill="#494949" opacity="0.76" filter="url(#b5)"/>
<circle cx="88.59" cy="638.39" r="0.70" fill="#6b6b6b" opacity="0.73" filter="url(#b5)"/>
<circle cx="90.34" cy="620.57" r="0.80" fill="#484848" opacity="0.79" filter="url(#b5)"/>
<circle cx="119.06" cy="614.19" r="1.10" fill="#484848" opacity="0.47" filter="url(#b5)"/>
<circle cx="99.12" cy="624.62" r="1.10" fill="#797979" opacity="0.56" filter="url(#b5)"/>
<circle cx="73.23" cy="625.92" r="0.50" fill="#7b7b7b" opacity="0.59" filter="url(#b5)"/>
<circle cx="91.70" cy="615.37" r="0.60" fill="#646464" opacity="0.50" filter="url(#b5)"/>
<circle cx="61.90" cy="609.17" r="0.80" fill="#4a4a4a" opacity="0.52" filter="url(#b5)"/>
<circle cx="74.53" cy="602.35" r="0.60" fill="#777777" opacity="0.80" filter="url(#b5)"/>
<circle cx="64.43" cy="610.64" r="0.70" fill="#707070" opacity="0.83" filter="url(#b5)"/>
<circle cx="53.98" cy="596.23" r="0.60" fill="#5d5d5d" opacity="0.45" filter="url(#b5)"/>
<circle cx="109.75" cy="596.60" r="0.70" fill="#404040" opacity="0.51" filter="url(#b5)"/>
<circle cx="85.44" cy="622.37" r="0.70" fill="#505050" opacity="0.73" filter="url(#b5)"/>
<circle cx="83.87" cy="622.84" r="1.10" fill="#464646" opacity="0.63" filter="url(#b5)"/>
<circle cx="113.02" cy="643.00" r="1.10" fill="#878787" opacity="0.61" filter="url(#b5)"/>
<circle cx="74.32" cy="591.84" r="1.10" fill="#737373" opacity="0.47" filter="url(#b5)"/>
<circle cx="47.12" cy="598.19" r="0.60" fill="#4e4e4e" opacity="0.59" filter="url(#b5)"/>
<circle cx="45.91" cy="585.61" r="0.60" fill="#848484" opacity="0.49" filter="url(#b5)"/>
<circle cx="71.42" cy="587.14" r="0.60" fill="#8e8e8e" opacity="0.60" filter="url(#b5)"/>
<circle cx="93.62" cy="643.21" r="0.90" fill="#6e6e6e" opacity="0.64" filter="url(#b5)"/>
<circle cx="51.06" cy="615.03" r="0.80" fill="#7d7d7d" opacity="0.64" filter="url(#b5)"/>
<circle cx="48.64" cy="591.76" r="0.70" fill="#616161" opacity="0.64" filter="url(#b5)"/>
<circle cx="98.35" cy="616.73" r="0.60" fill="#838383" opacity="0.59" filter="url(#b5)"/>
<circle cx="98.19" cy="640.72" r="0.90" fill="#666666" opacity="0.84" filter="url(#b5)"/>
<circle cx="112.39" cy="627.58" r="0.70" fill="#828282" opacity="0.60" filter="url(#b5)"/>
<circle cx="55.30" cy="632.15" r="0.90" fill="#858585" opacity="0.76" filter="url(#b5)"/>
<circle cx="68.63" cy="599.05" r="0.60" fill="#5e5e5e" opacity="0.78" filter="url(#b5)"/>
<circle cx="102.27" cy="599.27" r="0.90" fill="#7f7f7f" opacity="0.59" filter="url(#b5)"/>
<circle cx="43.98" cy="587.28" r="0.70" fill="#7c7c7c" opacity="0.55" filter="url(#b5)"/>
<circle cx="98.39" cy="643.28" r="0.80" fill="#6c6c6c" opacity="0.83" filter="url(#b5)"/>
<circle cx="71.50" cy="598.89" r="0.60" fill="#7c7c7c" opacity="0.53" filter="url(#b5)"/>
<circle cx="58.36" cy="623.23" r="0.90" fill="#404040" opacity="0.64" filter="url(#b5)"/>
<circle cx="95.14" cy="633.82" r="0.50" fill="#4f4f4f" opacity="0.81" filter="url(#b5)"/>
<circle cx="105.75" cy="630.83" r="0.80" fill="#565656" opacity="0.62" filter="url(#b5)"/>
<circle cx="93.74" cy="590.83" r="1.10" fill="#727272" opacity="0.64" filter="url(#b5)"/>
<circle cx="102.55" cy="590.72" r="0.60" fill="#555555" opacity="0.85" filter="url(#b5)"/>
<circle cx="43.86" cy="621.23" r="0.80" fill="#525252" opacity="0.69" filter="url(#b5)"/>
<circle cx="90.46" cy="614.20" r="0.70" fill="#535353" opacity="0.67" filter="url(#b5)"/>
<circle cx="52.34" cy="586.46" r="1.10" fill="#4d4d4d" opacity="0.66" filter="url(#b5)"/>
<circle cx="118.16" cy="611.76" r="0.60" fill="#5b5b5b" opacity="0.46" filter="url(#b5)"/>
<circle cx="59.05" cy="615.82" r="0.90" fill="#696969" opacity="0.55" filter="url(#b5)"/>
<circle cx="75.96" cy="593.50" r="1.10" fill="#6d6d6d" opacity="0.81" filter="url(#b5)"/>
<circle cx="95.92" cy="634.75" r="0.90" fill="#757575" opacity="0.78" filter="url(#b5)"/>
<circle cx="113.61" cy="593.49" r="0.60" fill="#838383" opacity="0.65" filter="url(#b5)"/>
<circle cx="113.17" cy="632.42" r="0.90" fill="#404040" opacity="0.76" filter="url(#b5)"/>
<circle cx="53.88" cy="594.14" r="0.90" fill="#4f4f4f" opacity="0.67" filter="url(#b5)"/>
<circle cx="68.33" cy="616.86" r="0.90" fill="#7d7d7d" opacity="0.76" filter="url(#b5)"/>
<circle cx="50.30" cy="619.39" r="0.60" fill="#585858" opacity="0.56" filter="url(#b5)"/>
<circle cx="104.93" cy="616.22" r="0.90" fill="#434343" opacity="0.75" filter="url(#b5)"/>
<circle cx="116.42" cy="612.33" r="0.90" fill="#808080" opacity="0.69" filter="url(#b5)"/>
<circle cx="57.95" cy="602.31" r="0.90" fill="#848484" opacity="0.77" filter="url(#b5)"/>
<circle cx="83.24" cy="600.53" r="0.90" fill="#616161" opacity="0.82" filter="url(#b5)"/>
<circle cx="114.81" cy="597.82" r="0.80" fill="#515151" opacity="0.62" filter="url(#b5)"/>
<circle cx="73.77" cy="604.65" r="1.10" fill="#5e5e5e" opacity="0.62" filter="url(#b5)"/>
<circle cx="59.04" cy="603.86" r="0.50" fill="#535353" opacity="0.83" filter="url(#b5)"/>
<circle cx="94.36" cy="607.68" r="0.70" fill="#515151" opacity="0.84" filter="url(#b5)"/>
<circle cx="59.61" cy="643.04" r="0.80" fill="#7e7e7e" opacity="0.52" filter="url(#b5)"/>
<circle cx="96.36" cy="599.09" r="1.10" fill="#777777" opacity="0.85" filter="url(#b5)"/>
<circle cx="74.71" cy="611.00" r="0.70" fill="#686868" opacity="0.49" filter="url(#b5)"/>
<circle cx="71.61" cy="605.98" r="0.80" fill="#787878" opacity="0.73" filter="url(#b5)"/>
<circle cx="73.12" cy="616.80" r="0.70" fill="#818181" opacity="0.83" filter="url(#b5)"/>
<circle cx="50.85" cy="640.99" r="0.60" fill="#4d4d4d" opacity="0.48" filter="url(#b5)"/>
<circle cx="63.90" cy="640.23" r="0.60" fill="#626262" opacity="0.75" filter="url(#b5)"/>
<circle cx="108.82" cy="636.83" r="1.10" fill="#616161" opacity="0.61" filter="url(#b5)"/>
<circle cx="85.60" cy="616.64" r="0.80" fill="#696969" opacity="0.49" filter="url(#b5)"/>
<circle cx="46.32" cy="627.10" r="0.80" fill="#494949" opacity="0.56" filter="url(#b5)"/>
<circle cx="42.98" cy="590.94" r="0.70" fill="#4a4a4a" opacity="0.69" filter="url(#b5)"/>
<circle cx="59.84" cy="601.55" r="0.50" fill="#7a7a7a" opacity="0.45" filter="url(#b5)"/>
<circle cx="123.13" cy="610.79" r="0.70" fill="#8f8f8f" opacity="0.50" filter="url(#b5)"/>
<circle cx="84.81" cy="599.98" r="0.50" fill="#545454" opacity="0.55" filter="url(#b5)"/>
<circle cx="56.45" cy="641.81" r="1.10" fill="#676767" opacity="0.66" filter="url(#b5)"/>
<circle cx="58.48" cy="612.47" r="1.10" fill="#565656" opacity="0.56" filter="url(#b5)"/>
<circle cx="107.50" cy="645.57" r="0.50" fill="#414141" opacity="0.46" filter="url(#b5)"/>
<circle cx="83.06" cy="644.58" r="0.90" fill="#7c7c7c" opacity="0.55" filter="url(#b5)"/>
<circle cx="78.26" cy="625.30" r="1.10" fill="#777777" opacity="0.71" filter="url(#b5)"/>
<circle cx="86.36" cy="639.19" r="0.90" fill="#676767" opacity="0.73" filter="url(#b5)"/>
<circle cx="122.16" cy="606.27" r="1.10" fill="#515151" opacity="0.61" filter="url(#b5)"/>
<circle cx="70.10" cy="588.88" r="0.60" fill="#414141" opacity="0.48" filter="url(#b5)"/>
<circle cx="102.35" cy="601.01" r="0.60" fill="#474747" opacity="0.48" filter="url(#b5)"/>
<circle cx="110.58" cy="638.09" r="1.10" fill="#646464" opacity="0.69" filter="url(#b5)"/>
<circle cx="98.40" cy="588.33" r="0.60" fill="#545454" opacity="0.56" filter="url(#b5)"/>
<circle cx="41.90" cy="607.56" r="0.70" fill="#868686" opacity="0.58" filter="url(#b5)"/>
<circle cx="44.42" cy="638.81" r="0.60" fill="#6d6d6d" opacity="0.52" filter="url(#b5)"/>
<circle cx="69.10" cy="590.66" r="0.70" fill="#808080" opacity="0.71" filter="url(#b5)"/>
<circle cx="61.95" cy="632.41" r="0.50" fill="#616161" opacity="0.78" filter="url(#b5)"/>
<circle cx="53.40" cy="620.98" r="0.80" fill="#424242" opacity="0.57" filter="url(#b5)"/>
<circle cx="93.23" cy="590.69" r="0.90" fill="#535353" opacity="0.71" filter="url(#b5)"/>
<circle cx="100.31" cy="638.61" r="0.80" fill="#696969" opacity="0.74" filter="url(#b5)"/>
<circle cx="82.12" cy="602.74" r="0.90" fill="#525252" opacity="0.47" filter="url(#b5)"/>
<circle cx="110.09" cy="639.38" r="1.10" fill="#767676" opacity="0.74" filter="url(#b5)"/>
<circle cx="108.20" cy="594.00" r="0.90" fill="#808080" opacity="0.68" filter="url(#b5)"/>
<circle cx="108.26" cy="586.57" r="1.10" fill="#8a8a8a" opacity="0.77" filter="url(#b5)"/>
<circle cx="99.92" cy="643.25" r="1.10" fill="#5d5d5d" opacity="0.48" filter="url(#b5)"/>
<circle cx="45.03" cy="624.02" r="0.50" fill="#707070" opacity="0.78" filter="url(#b5)"/>
<circle cx="87.40" cy="623.45" r="1.10" fill="#848484" opacity="0.72" filter="url(#b5)"/>
<circle cx="81.72" cy="585.80" r="0.50" fill="#808080" opacity="0.81" filter="url(#b5)"/>
<circle cx="49.14" cy="617.32" r="1.10" fill="#7c7c7c" opacity="0.55" filter="url(#b5)"/>
<circle cx="47.70" cy="601.61" r="1.93" fill="#a0a0a0" opacity="0.3" filter="url(#b1)"/>
<circle cx="58.43" cy="630.21" r="2.18" fill="#a0a0a0" opacity="0.3" filter="url(#b1)"/>
<circle cx="82.10" cy="608.67" r="1.68" fill="#a0a0a0" opacity="0.3" filter="url(#b1)"/>
<circle cx="97.66" cy="631.85" r="1.82" fill="#a0a0a0" opacity="0.3" filter="url(#b1)"/>
<circle cx="94.31" cy="590.27" r="1.35" fill="#a0a0a0" opacity="0.3" filter="url(#b1)"/>
<circle cx="62.42" cy="630.42" r="1.50" fill="#a0a0a0" opacity="0.3" filter="url(#b1)"/>
</g>
<rect x="40.60" y="649.10" width="84.00" height="62.30" fill="url(#hg2)" />
<rect x="40.60" y="649.10" width="84.00" height="62.30" fill="#000" filter="url(#gr2)"/>
<g clip-path="url(#hc2)">
<circle cx="88.16" cy="650.85" r="0.50" fill="#7e7e7e" opacity="0.56" filter="url(#b5)"/>
<circle cx="96.70" cy="691.84" r="1.10" fill="#7e7e7e" opacity="0.57" filter="url(#b5)"/>
<circle cx="83.96" cy="678.12" r="0.80" fill="#4f4f4f" opacity="0.85" filter="url(#b5)"/>
<circle cx="86.62" cy="668.89" r="0.50" fill="#7c7c7c" opacity="0.46" filter="url(#b5)"/>
<circle cx="79.24" cy="699.54" r="0.80" fill="#626262" opacity="0.60" filter="url(#b5)"/>
<circle cx="116.76" cy="706.21" r="0.50" fill="#8a8a8a" opacity="0.49" filter="url(#b5)"/>
<circle cx="102.89" cy="665.89" r="0.70" fill="#505050" opacity="0.69" filter="url(#b5)"/>
<circle cx="93.40" cy="666.96" r="0.50" fill="#6e6e6e" opacity="0.54" filter="url(#b5)"/>
<circle cx="115.21" cy="679.41" r="0.50" fill="#545454" opacity="0.45" filter="url(#b5)"/>
<circle cx="81.92" cy="677.28" r="0.70" fill="#525252" opacity="0.62" filter="url(#b5)"/>
<circle cx="72.44" cy="657.39" r="0.70" fill="#404040" opacity="0.58" filter="url(#b5)"/>
<circle cx="69.34" cy="674.12" r="0.60" fill="#414141" opacity="0.81" filter="url(#b5)"/>
<circle cx="65.37" cy="672.54" r="0.80" fill="#717171" opacity="0.85" filter="url(#b5)"/>
<circle cx="89.91" cy="671.85" r="0.80" fill="#636363" opacity="0.79" filter="url(#b5)"/>
<circle cx="64.61" cy="653.21" r="1.10" fill="#646464" opacity="0.70" filter="url(#b5)"/>
<circle cx="53.81" cy="708.65" r="0.80" fill="#818181" opacity="0.58" filter="url(#b5)"/>
<circle cx="105.00" cy="697.44" r="0.80" fill="#434343" opacity="0.77" filter="url(#b5)"/>
<circle cx="93.33" cy="705.18" r="0.90" fill="#868686" opacity="0.53" filter="url(#b5)"/>
<circle cx="48.21" cy="706.39" r="0.80" fill="#797979" opacity="0.70" filter="url(#b5)"/>
<circle cx="52.96" cy="702.53" r="0.80" fill="#464646" opacity="0.81" filter="url(#b5)"/>
<circle cx="86.71" cy="660.40" r="0.80" fill="#6b6b6b" opacity="0.56" filter="url(#b5)"/>
<circle cx="62.57" cy="694.65" r="1.10" fill="#616161" opacity="0.61" filter="url(#b5)"/>
<circle cx="61.17" cy="679.24" r="1.10" fill="#727272" opacity="0.50" filter="url(#b5)"/>
<circle cx="94.34" cy="654.63" r="0.90" fill="#7f7f7f" opacity="0.67" filter="url(#b5)"/>
<circle cx="78.74" cy="670.17" r="0.80" fill="#767676" opacity="0.51" filter="url(#b5)"/>
<circle cx="57.38" cy="655.57" r="0.70" fill="#878787" opacity="0.49" filter="url(#b5)"/>
<circle cx="61.21" cy="665.68" r="0.90" fill="#595959" opacity="0.80" filter="url(#b5)"/>
<circle cx="103.07" cy="674.99" r="0.80" fill="#838383" opacity="0.53" filter="url(#b5)"/>
<circle cx="63.76" cy="695.45" r="0.80" fill="#636363" opacity="0.68" filter="url(#b5)"/>
<circle cx="71.13" cy="691.51" r="0.90" fill="#909090" opacity="0.77" filter="url(#b5)"/>
<circle cx="111.19" cy="655.68" r="0.60" fill="#717171" opacity="0.61" filter="url(#b5)"/>
<circle cx="78.16" cy="707.62" r="0.50" fill="#505050" opacity="0.46" filter="url(#b5)"/>
<circle cx="99.78" cy="704.11" r="0.80" fill="#8b8b8b" opacity="0.65" filter="url(#b5)"/>
<circle cx="47.60" cy="706.19" r="0.90" fill="#7b7b7b" opacity="0.84" filter="url(#b5)"/>
<circle cx="61.97" cy="656.68" r="0.60" fill="#535353" opacity="0.66" filter="url(#b5)"/>
<circle cx="97.53" cy="706.87" r="1.10" fill="#7a7a7a" opacity="0.48" filter="url(#b5)"/>
<circle cx="105.30" cy="650.18" r="0.60" fill="#5d5d5d" opacity="0.68" filter="url(#b5)"/>
<circle cx="44.68" cy="693.22" r="0.60" fill="#909090" opacity="0.55" filter="url(#b5)"/>
<circle cx="93.78" cy="692.22" r="0.50" fill="#4c4c4c" opacity="0.48" filter="url(#b5)"/>
<circle cx="84.60" cy="685.25" r="0.80" fill="#616161" opacity="0.54" filter="url(#b5)"/>
<circle cx="90.89" cy="650.73" r="0.70" fill="#7a7a7a" opacity="0.56" filter="url(#b5)"/>
<circle cx="67.54" cy="700.72" r="0.60" fill="#7c7c7c" opacity="0.66" filter="url(#b5)"/>
<circle cx="86.45" cy="651.87" r="0.80" fill="#676767" opacity="0.47" filter="url(#b5)"/>
<circle cx="57.52" cy="703.46" r="1.10" fill="#757575" opacity="0.48" filter="url(#b5)"/>
<circle cx="60.28" cy="675.69" r="0.70" fill="#5d5d5d" opacity="0.65" filter="url(#b5)"/>
<circle cx="98.66" cy="693.42" r="0.70" fill="#727272" opacity="0.53" filter="url(#b5)"/>
<circle cx="106.96" cy="694.67" r="0.90" fill="#484848" opacity="0.53" filter="url(#b5)"/>
<circle cx="121.13" cy="668.90" r="0.60" fill="#5d5d5d" opacity="0.64" filter="url(#b5)"/>
<circle cx="63.33" cy="703.73" r="0.50" fill="#8f8f8f" opacity="0.65" filter="url(#b5)"/>
<circle cx="56.96" cy="663.57" r="0.80" fill="#474747" opacity="0.83" filter="url(#b5)"/>
<circle cx="53.60" cy="673.83" r="0.60" fill="#434343" opacity="0.84" filter="url(#b5)"/>
<circle cx="53.24" cy="653.23" r="0.50" fill="#575757" opacity="0.61" filter="url(#b5)"/>
<circle cx="115.25" cy="703.38" r="1.10" fill="#4e4e4e" opacity="0.85" filter="url(#b5)"/>
<circle cx="117.99" cy="669.95" r="0.60" fill="#838383" opacity="0.75" filter="url(#b5)"/>
<circle cx="44.22" cy="690.17" r="0.80" fill="#6f6f6f" opacity="0.84" filter="url(#b5)"/>
<circle cx="77.88" cy="656.67" r="0.50" fill="#636363" opacity="0.48" filter="url(#b5)"/>
<circle cx="76.06" cy="703.48" r="0.90" fill="#5a5a5a" opacity="0.60" filter="url(#b5)"/>
<circle cx="104.64" cy="668.71" r="0.80" fill="#4b4b4b" opacity="0.47" filter="url(#b5)"/>
<circle cx="80.42" cy="672.57" r="0.80" fill="#585858" opacity="0.58" filter="url(#b5)"/>
<circle cx="102.06" cy="678.71" r="1.10" fill="#747474" opacity="0.55" filter="url(#b5)"/>
<circle cx="92.88" cy="674.51" r="0.80" fill="#444444" opacity="0.64" filter="url(#b5)"/>
<circle cx="107.47" cy="653.84" r="0.60" fill="#484848" opacity="0.81" filter="url(#b5)"/>
<circle cx="69.40" cy="666.52" r="0.90" fill="#454545" opacity="0.55" filter="url(#b5)"/>
<circle cx="100.36" cy="669.18" r="0.70" fill="#666666" opacity="0.45" filter="url(#b5)"/>
<circle cx="103.56" cy="705.36" r="1.10" fill="#484848" opacity="0.46" filter="url(#b5)"/>
<circle cx="60.78" cy="678.75" r="0.80" fill="#717171" opacity="0.77" filter="url(#b5)"/>
<circle cx="116.51" cy="699.23" r="0.60" fill="#7f7f7f" opacity="0.52" filter="url(#b5)"/>
<circle cx="107.41" cy="694.63" r="1.10" fill="#535353" opacity="0.69" filter="url(#b5)"/>
<circle cx="68.48" cy="669.37" r="0.70" fill="#8c8c8c" opacity="0.48" filter="url(#b5)"/>
<circle cx="57.78" cy="695.50" r="0.60" fill="#747474" opacity="0.48" filter="url(#b5)"/>
<circle cx="44.38" cy="683.42" r="0.70" fill="#545454" opacity="0.84" filter="url(#b5)"/>
<circle cx="114.04" cy="709.67" r="0.70" fill="#8f8f8f" opacity="0.48" filter="url(#b5)"/>
<circle cx="49.51" cy="680.16" r="1.10" fill="#797979" opacity="0.52" filter="url(#b5)"/>
<circle cx="52.50" cy="677.89" r="1.10" fill="#5e5e5e" opacity="0.75" filter="url(#b5)"/>
<circle cx="111.05" cy="690.16" r="0.50" fill="#656565" opacity="0.57" filter="url(#b5)"/>
<circle cx="88.08" cy="672.59" r="1.10" fill="#616161" opacity="0.53" filter="url(#b5)"/>
<circle cx="61.89" cy="664.89" r="0.60" fill="#646464" opacity="0.80" filter="url(#b5)"/>
<circle cx="89.02" cy="669.78" r="0.80" fill="#606060" opacity="0.85" filter="url(#b5)"/>
<circle cx="83.20" cy="664.05" r="0.50" fill="#7b7b7b" opacity="0.85" filter="url(#b5)"/>
<circle cx="49.99" cy="678.73" r="0.60" fill="#797979" opacity="0.82" filter="url(#b5)"/>
<circle cx="44.91" cy="667.81" r="1.32" fill="#a0a0a0" opacity="0.3" filter="url(#b1)"/>
<circle cx="57.15" cy="708.77" r="1.78" fill="#a0a0a0" opacity="0.3" filter="url(#b1)"/>
<circle cx="117.87" cy="672.55" r="2.07" fill="#a0a0a0" opacity="0.3" filter="url(#b1)"/>
<circle cx="78.43" cy="665.77" r="1.98" fill="#a0a0a0" opacity="0.3" filter="url(#b1)"/>
<circle cx="119.15" cy="656.48" r="1.80" fill="#a0a0a0" opacity="0.3" filter="url(#b1)"/>
<circle cx="92.44" cy="663.22" r="1.57" fill="#a0a0a0" opacity="0.3" filter="url(#b1)"/>
</g>
<rect x="126.40" y="584.60" width="83.20" height="62.30" fill="url(#hg3)" />
<rect x="126.40" y="584.60" width="83.20" height="62.30" fill="#000" filter="url(#gr3)"/>
<g clip-path="url(#hc3)">
<circle cx="138.88" cy="597.90" r="0.70" fill="#444444" opacity="0.69" filter="url(#b5)"/>
<circle cx="180.31" cy="597.87" r="0.50" fill="#696969" opacity="0.61" filter="url(#b5)"/>
<circle cx="157.59" cy="623.05" r="0.50" fill="#5a5a5a" opacity="0.46" filter="url(#b5)"/>
<circle cx="167.64" cy="614.76" r="0.80" fill="#4c4c4c" opacity="0.77" filter="url(#b5)"/>
<circle cx="181.32" cy="594.92" r="0.90" fill="#4b4b4b" opacity="0.71" filter="url(#b5)"/>
<circle cx="159.70" cy="601.95" r="0.70" fill="#676767" opacity="0.62" filter="url(#b5)"/>
<circle cx="131.57" cy="630.54" r="0.70" fill="#757575" opacity="0.62" filter="url(#b5)"/>
<circle cx="197.58" cy="645.70" r="0.70" fill="#595959" opacity="0.61" filter="url(#b5)"/>
<circle cx="160.28" cy="642.40" r="0.80" fill="#545454" opacity="0.62" filter="url(#b5)"/>
<circle cx="194.01" cy="610.09" r="0.70" fill="#7a7a7a" opacity="0.76" filter="url(#b5)"/>
<circle cx="137.95" cy="588.72" r="0.60" fill="#727272" opacity="0.49" filter="url(#b5)"/>
<circle cx="177.92" cy="607.96" r="0.90" fill="#555555" opacity="0.51" filter="url(#b5)"/>
<circle cx="150.40" cy="617.03" r="0.50" fill="#4d4d4d" opacity="0.60" filter="url(#b5)"/>
<circle cx="188.59" cy="633.37" r="0.60" fill="#666666" opacity="0.50" filter="url(#b5)"/>
<circle cx="203.98" cy="644.43" r="0.80" fill="#686868" opacity="0.47" filter="url(#b5)"/>
<circle cx="202.60" cy="608.99" r="1.10" fill="#8f8f8f" opacity="0.73" filter="url(#b5)"/>
<circle cx="199.76" cy="624.21" r="0.60" fill="#8f8f8f" opacity="0.61" filter="url(#b5)"/>
<circle cx="196.12" cy="635.60" r="0.60" fill="#888888" opacity="0.54" filter="url(#b5)"/>
<circle cx="159.86" cy="616.83" r="0.80" fill="#6d6d6d" opacity="0.50" filter="url(#b5)"/>
<circle cx="147.46" cy="629.31" r="0.60" fill="#454545" opacity="0.80" filter="url(#b5)"/>
<circle cx="195.81" cy="626.14" r="1.10" fill="#696969" opacity="0.50" filter="url(#b5)"/>
<circle cx="176.08" cy="618.77" r="1.10" fill="#676767" opacity="0.71" filter="url(#b5)"/>
<circle cx="152.43" cy="600.63" r="0.80" fill="#6f6f6f" opacity="0.63" filter="url(#b5)"/>
<circle cx="162.99" cy="587.01" r="0.90" fill="#7e7e7e" opacity="0.64" filter="url(#b5)"/>
<circle cx="163.68" cy="622.90" r="0.80" fill="#565656" opacity="0.77" filter="url(#b5)"/>
<circle cx="159.91" cy="589.65" r="0.70" fill="#777777" opacity="0.60" filter="url(#b5)"/>
<circle cx="192.55" cy="616.01" r="1.10" fill="#454545" opacity="0.47" filter="url(#b5)"/>
<circle cx="137.98" cy="641.20" r="0.70" fill="#818181" opacity="0.48" filter="url(#b5)"/>
<circle cx="188.47" cy="639.56" r="1.10" fill="#515151" opacity="0.46" filter="url(#b5)"/>
<circle cx="132.79" cy="622.63" r="1.10" fill="#4e4e4e" opacity="0.53" filter="url(#b5)"/>
<circle cx="207.12" cy="615.26" r="0.60" fill="#5c5c5c" opacity="0.48" filter="url(#b5)"/>
<circle cx="155.89" cy="631.20" r="0.60" fill="#696969" opacity="0.81" filter="url(#b5)"/>
<circle cx="149.73" cy="634.78" r="0.60" fill="#606060" opacity="0.65" filter="url(#b5)"/>
<circle cx="202.10" cy="598.16" r="0.70" fill="#8e8e8e" opacity="0.65" filter="url(#b5)"/>
<circle cx="153.31" cy="587.82" r="0.60" fill="#737373" opacity="0.51" filter="url(#b5)"/>
<circle cx="203.44" cy="626.58" r="0.80" fill="#555555" opacity="0.77" filter="url(#b5)"/>
<circle cx="148.86" cy="631.93" r="0.50" fill="#6e6e6e" opacity="0.84" filter="url(#b5)"/>
<circle cx="164.19" cy="617.04" r="1.10" fill="#4d4d4d" opacity="0.55" filter="url(#b5)"/>
<circle cx="170.90" cy="637.25" r="1.10" fill="#6f6f6f" opacity="0.56" filter="url(#b5)"/>
<circle cx="207.83" cy="620.41" r="0.70" fill="#6a6a6a" opacity="0.76" filter="url(#b5)"/>
<circle cx="163.31" cy="596.26" r="1.10" fill="#464646" opacity="0.57" filter="url(#b5)"/>
<circle cx="169.31" cy="604.30" r="0.90" fill="#686868" opacity="0.74" filter="url(#b5)"/>
<circle cx="188.07" cy="598.96" r="0.70" fill="#8e8e8e" opacity="0.70" filter="url(#b5)"/>
<circle cx="161.32" cy="607.56" r="0.50" fill="#505050" opacity="0.65" filter="url(#b5)"/>
<circle cx="177.14" cy="588.35" r="0.50" fill="#404040" opacity="0.68" filter="url(#b5)"/>
<circle cx="152.06" cy="617.14" r="0.90" fill="#5c5c5c" opacity="0.62" filter="url(#b5)"/>
<circle cx="151.85" cy="593.66" r="0.70" fill="#8f8f8f" opacity="0.78" filter="url(#b5)"/>
<circle cx="140.28" cy="586.45" r="0.60" fill="#535353" opacity="0.63" filter="url(#b5)"/>
<circle cx="132.57" cy="594.32" r="1.10" fill="#626262" opacity="0.61" filter="url(#b5)"/>
<circle cx="148.86" cy="586.29" r="1.10" fill="#878787" opacity="0.81" filter="url(#b5)"/>
<circle cx="175.69" cy="620.48" r="0.90" fill="#828282" opacity="0.74" filter="url(#b5)"/>
<circle cx="147.58" cy="640.08" r="0.50" fill="#474747" opacity="0.66" filter="url(#b5)"/>
<circle cx="160.37" cy="599.93" r="0.50" fill="#4d4d4d" opacity="0.45" filter="url(#b5)"/>
<circle cx="172.13" cy="642.34" r="0.60" fill="#747474" opacity="0.53" filter="url(#b5)"/>
<circle cx="176.78" cy="616.17" r="1.10" fill="#757575" opacity="0.78" filter="url(#b5)"/>
<circle cx="141.58" cy="604.26" r="0.70" fill="#909090" opacity="0.47" filter="url(#b5)"/>
<circle cx="199.62" cy="632.81" r="1.10" fill="#848484" opacity="0.45" filter="url(#b5)"/>
<circle cx="195.97" cy="630.53" r="0.80" fill="#4a4a4a" opacity="0.75" filter="url(#b5)"/>
<circle cx="164.14" cy="599.22" r="0.50" fill="#616161" opacity="0.54" filter="url(#b5)"/>
<circle cx="130.55" cy="605.83" r="1.10" fill="#616161" opacity="0.73" filter="url(#b5)"/>
<circle cx="149.00" cy="618.99" r="0.80" fill="#828282" opacity="0.84" filter="url(#b5)"/>
<circle cx="151.40" cy="641.59" r="0.60" fill="#4a4a4a" opacity="0.80" filter="url(#b5)"/>
<circle cx="128.64" cy="601.30" r="0.60" fill="#595959" opacity="0.83" filter="url(#b5)"/>
<circle cx="187.99" cy="605.31" r="0.80" fill="#6a6a6a" opacity="0.69" filter="url(#b5)"/>
<circle cx="158.21" cy="636.97" r="1.10" fill="#848484" opacity="0.64" filter="url(#b5)"/>
<circle cx="195.58" cy="627.67" r="0.50" fill="#777777" opacity="0.83" filter="url(#b5)"/>
<circle cx="146.39" cy="638.95" r="0.60" fill="#727272" opacity="0.70" filter="url(#b5)"/>
<circle cx="133.72" cy="640.52" r="0.60" fill="#444444" opacity="0.46" filter="url(#b5)"/>
<circle cx="136.06" cy="641.62" r="0.70" fill="#525252" opacity="0.73" filter="url(#b5)"/>
<circle cx="129.91" cy="593.95" r="1.10" fill="#454545" opacity="0.73" filter="url(#b5)"/>
<circle cx="187.23" cy="589.57" r="0.90" fill="#6e6e6e" opacity="0.53" filter="url(#b5)"/>
<circle cx="204.91" cy="617.79" r="1.10" fill="#484848" opacity="0.80" filter="url(#b5)"/>
<circle cx="188.77" cy="628.49" r="0.80" fill="#4d4d4d" opacity="0.55" filter="url(#b5)"/>
<circle cx="143.90" cy="587.64" r="1.10" fill="#4b4b4b" opacity="0.78" filter="url(#b5)"/>
<circle cx="178.68" cy="602.93" r="0.50" fill="#505050" opacity="0.49" filter="url(#b5)"/>
<circle cx="188.90" cy="597.96" r="0.70" fill="#6b6b6b" opacity="0.62" filter="url(#b5)"/>
<circle cx="129.10" cy="601.08" r="0.70" fill="#464646" opacity="0.74" filter="url(#b5)"/>
<circle cx="157.28" cy="604.95" r="0.90" fill="#808080" opacity="0.64" filter="url(#b5)"/>
<circle cx="150.76" cy="630.56" r="0.80" fill="#434343" opacity="0.62" filter="url(#b5)"/>
<circle cx="190.17" cy="606.51" r="1.10" fill="#464646" opacity="0.67" filter="url(#b5)"/>
<circle cx="144.99" cy="637.59" r="0.50" fill="#898989" opacity="0.78" filter="url(#b5)"/>
<circle cx="141.23" cy="585.68" r="0.60" fill="#646464" opacity="0.75" filter="url(#b5)"/>
<circle cx="206.80" cy="585.86" r="0.80" fill="#4c4c4c" opacity="0.65" filter="url(#b5)"/>
<circle cx="192.10" cy="596.73" r="0.80" fill="#8b8b8b" opacity="0.59" filter="url(#b5)"/>
<circle cx="194.95" cy="601.31" r="0.60" fill="#646464" opacity="0.78" filter="url(#b5)"/>
<circle cx="203.59" cy="599.56" r="0.60" fill="#4e4e4e" opacity="0.83" filter="url(#b5)"/>
<circle cx="189.66" cy="615.16" r="1.10" fill="#878787" opacity="0.76" filter="url(#b5)"/>
<circle cx="178.39" cy="607.04" r="0.80" fill="#727272" opacity="0.81" filter="url(#b5)"/>
<circle cx="187.91" cy="611.05" r="1.10" fill="#434343" opacity="0.60" filter="url(#b5)"/>
<circle cx="152.02" cy="611.41" r="0.90" fill="#808080" opacity="0.52" filter="url(#b5)"/>
<circle cx="207.17" cy="623.63" r="0.80" fill="#505050" opacity="0.66" filter="url(#b5)"/>
<circle cx="188.66" cy="631.01" r="1.10" fill="#444444" opacity="0.59" filter="url(#b5)"/>
<circle cx="153.92" cy="594.97" r="0.80" fill="#868686" opacity="0.75" filter="url(#b5)"/>
<circle cx="141.17" cy="612.06" r="0.70" fill="#8a8a8a" opacity="0.54" filter="url(#b5)"/>
<circle cx="154.53" cy="624.35" r="1.10" fill="#5e5e5e" opacity="0.65" filter="url(#b5)"/>
<circle cx="149.12" cy="631.11" r="0.90" fill="#535353" opacity="0.74" filter="url(#b5)"/>
<circle cx="206.55" cy="629.21" r="0.90" fill="#828282" opacity="0.59" filter="url(#b5)"/>
<circle cx="146.58" cy="643.23" r="0.70" fill="#4d4d4d" opacity="0.52" filter="url(#b5)"/>
<circle cx="180.82" cy="597.38" r="0.60" fill="#525252" opacity="0.77" filter="url(#b5)"/>
<circle cx="186.94" cy="611.83" r="0.60" fill="#4d4d4d" opacity="0.71" filter="url(#b5)"/>
<circle cx="136.08" cy="598.05" r="0.80" fill="#7b7b7b" opacity="0.46" filter="url(#b5)"/>
<circle cx="159.80" cy="633.30" r="1.10" fill="#5c5c5c" opacity="0.65" filter="url(#b5)"/>
<circle cx="178.75" cy="613.54" r="0.60" fill="#606060" opacity="0.69" filter="url(#b5)"/>
<circle cx="160.26" cy="630.28" r="0.80" fill="#898989" opacity="0.68" filter="url(#b5)"/>
<circle cx="179.95" cy="636.61" r="1.10" fill="#8a8a8a" opacity="0.79" filter="url(#b5)"/>
<circle cx="182.58" cy="624.28" r="0.80" fill="#777777" opacity="0.58" filter="url(#b5)"/>
<circle cx="178.42" cy="591.50" r="0.80" fill="#5f5f5f" opacity="0.76" filter="url(#b5)"/>
<circle cx="185.31" cy="623.57" r="0.70" fill="#767676" opacity="0.64" filter="url(#b5)"/>
<circle cx="129.00" cy="637.37" r="0.90" fill="#575757" opacity="0.81" filter="url(#b5)"/>
<circle cx="154.04" cy="586.24" r="0.80" fill="#4d4d4d" opacity="0.47" filter="url(#b5)"/>
<circle cx="171.52" cy="595.30" r="0.60" fill="#828282" opacity="0.59" filter="url(#b5)"/>
<circle cx="196.19" cy="613.14" r="0.60" fill="#7c7c7c" opacity="0.65" filter="url(#b5)"/>
<circle cx="179.31" cy="635.59" r="0.90" fill="#6b6b6b" opacity="0.61" filter="url(#b5)"/>
<circle cx="204.38" cy="598.27" r="1.10" fill="#575757" opacity="0.61" filter="url(#b5)"/>
<circle cx="189.33" cy="592.98" r="0.90" fill="#6d6d6d" opacity="0.71" filter="url(#b5)"/>
<circle cx="147.90" cy="608.62" r="0.50" fill="#414141" opacity="0.48" filter="url(#b5)"/>
<circle cx="201.73" cy="623.50" r="1.10" fill="#6d6d6d" opacity="0.68" filter="url(#b5)"/>
<circle cx="136.27" cy="603.90" r="0.80" fill="#838383" opacity="0.84" filter="url(#b5)"/>
<circle cx="208.13" cy="643.54" r="0.80" fill="#5b5b5b" opacity="0.52" filter="url(#b5)"/>
<circle cx="202.87" cy="589.75" r="1.10" fill="#585858" opacity="0.64" filter="url(#b5)"/>
<circle cx="173.04" cy="599.23" r="0.60" fill="#6d6d6d" opacity="0.72" filter="url(#b5)"/>
<circle cx="194.85" cy="633.55" r="0.80" fill="#7b7b7b" opacity="0.85" filter="url(#b5)"/>
<circle cx="189.10" cy="624.77" r="0.80" fill="#6d6d6d" opacity="0.76" filter="url(#b5)"/>
<circle cx="146.11" cy="628.06" r="1.10" fill="#606060" opacity="0.84" filter="url(#b5)"/>
<circle cx="182.52" cy="614.64" r="1.10" fill="#636363" opacity="0.59" filter="url(#b5)"/>
<circle cx="180.54" cy="604.92" r="0.80" fill="#767676" opacity="0.70" filter="url(#b5)"/>
<circle cx="134.34" cy="639.69" r="0.60" fill="#666666" opacity="0.79" filter="url(#b5)"/>
<circle cx="132.03" cy="635.52" r="0.70" fill="#515151" opacity="0.66" filter="url(#b5)"/>
<circle cx="155.43" cy="620.72" r="1.10" fill="#414141" opacity="0.53" filter="url(#b5)"/>
<circle cx="133.25" cy="603.27" r="0.90" fill="#4c4c4c" opacity="0.68" filter="url(#b5)"/>
<circle cx="196.76" cy="596.80" r="0.80" fill="#6c6c6c" opacity="0.76" filter="url(#b5)"/>
<circle cx="144.33" cy="609.87" r="0.90" fill="#555555" opacity="0.69" filter="url(#b5)"/>
<circle cx="183.27" cy="644.52" r="0.50" fill="#868686" opacity="0.77" filter="url(#b5)"/>
<circle cx="195.51" cy="597.50" r="1.10" fill="#5b5b5b" opacity="0.66" filter="url(#b5)"/>
<circle cx="187.64" cy="612.05" r="0.50" fill="#878787" opacity="0.50" filter="url(#b5)"/>
<circle cx="161.43" cy="635.47" r="0.80" fill="#7f7f7f" opacity="0.67" filter="url(#b5)"/>
<circle cx="166.73" cy="640.20" r="1.10" fill="#7e7e7e" opacity="0.55" filter="url(#b5)"/>
<circle cx="140.77" cy="621.76" r="1.10" fill="#404040" opacity="0.51" filter="url(#b5)"/>
<circle cx="153.44" cy="627.56" r="0.80" fill="#656565" opacity="0.79" filter="url(#b5)"/>
<circle cx="157.85" cy="610.85" r="1.10" fill="#494949" opacity="0.52" filter="url(#b5)"/>
<circle cx="156.66" cy="624.59" r="1.22" fill="#a0a0a0" opacity="0.3" filter="url(#b1)"/>
<circle cx="131.12" cy="630.01" r="2.20" fill="#a0a0a0" opacity="0.3" filter="url(#b1)"/>
<circle cx="193.06" cy="591.27" r="1.68" fill="#a0a0a0" opacity="0.3" filter="url(#b1)"/>
<circle cx="188.88" cy="594.31" r="1.41" fill="#a0a0a0" opacity="0.3" filter="url(#b1)"/>
<circle cx="161.15" cy="593.25" r="1.29" fill="#a0a0a0" opacity="0.3" filter="url(#b1)"/>
<circle cx="180.91" cy="606.18" r="1.98" fill="#a0a0a0" opacity="0.3" filter="url(#b1)"/>
</g>
<rect x="126.40" y="649.10" width="83.20" height="62.30" fill="url(#hg4)" />
<rect x="126.40" y="649.10" width="83.20" height="62.30" fill="#000" filter="url(#gr4)"/>
<g clip-path="url(#hc4)">
<circle cx="172.39" cy="705.11" r="0.70" fill="#777777" opacity="0.59" filter="url(#b5)"/>
<circle cx="147.83" cy="653.28" r="0.70" fill="#656565" opacity="0.59" filter="url(#b5)"/>
<circle cx="167.49" cy="670.22" r="0.70" fill="#808080" opacity="0.59" filter="url(#b5)"/>
<circle cx="143.93" cy="679.78" r="0.50" fill="#6a6a6a" opacity="0.53" filter="url(#b5)"/>
<circle cx="185.31" cy="657.79" r="1.10" fill="#4b4b4b" opacity="0.76" filter="url(#b5)"/>
<circle cx="130.65" cy="693.68" r="0.80" fill="#858585" opacity="0.68" filter="url(#b5)"/>
<circle cx="159.76" cy="656.64" r="0.50" fill="#585858" opacity="0.78" filter="url(#b5)"/>
<circle cx="165.97" cy="696.29" r="0.50" fill="#808080" opacity="0.81" filter="url(#b5)"/>
<circle cx="177.07" cy="687.29" r="1.10" fill="#8c8c8c" opacity="0.80" filter="url(#b5)"/>
<circle cx="134.14" cy="652.48" r="1.10" fill="#7a7a7a" opacity="0.70" filter="url(#b5)"/>
<circle cx="141.52" cy="690.12" r="0.50" fill="#757575" opacity="0.76" filter="url(#b5)"/>
<circle cx="201.62" cy="689.64" r="0.70" fill="#515151" opacity="0.76" filter="url(#b5)"/>
<circle cx="173.04" cy="665.66" r="0.70" fill="#575757" opacity="0.62" filter="url(#b5)"/>
<circle cx="153.26" cy="676.07" r="1.10" fill="#8a8a8a" opacity="0.82" filter="url(#b5)"/>
<circle cx="131.83" cy="684.32" r="0.50" fill="#4f4f4f" opacity="0.76" filter="url(#b5)"/>
<circle cx="161.59" cy="692.05" r="0.80" fill="#797979" opacity="0.48" filter="url(#b5)"/>
<circle cx="182.61" cy="685.91" r="1.10" fill="#535353" opacity="0.64" filter="url(#b5)"/>
<circle cx="160.89" cy="656.25" r="1.10" fill="#7c7c7c" opacity="0.53" filter="url(#b5)"/>
<circle cx="139.72" cy="651.04" r="0.50" fill="#414141" opacity="0.72" filter="url(#b5)"/>
<circle cx="137.28" cy="708.37" r="0.50" fill="#5b5b5b" opacity="0.80" filter="url(#b5)"/>
<circle cx="137.87" cy="651.17" r="1.10" fill="#888888" opacity="0.55" filter="url(#b5)"/>
<circle cx="186.96" cy="661.40" r="0.50" fill="#6e6e6e" opacity="0.76" filter="url(#b5)"/>
<circle cx="185.34" cy="701.69" r="1.10" fill="#4a4a4a" opacity="0.57" filter="url(#b5)"/>
<circle cx="172.67" cy="680.14" r="1.10" fill="#606060" opacity="0.82" filter="url(#b5)"/>
<circle cx="131.68" cy="652.03" r="0.50" fill="#414141" opacity="0.80" filter="url(#b5)"/>
<circle cx="183.16" cy="687.38" r="0.80" fill="#676767" opacity="0.57" filter="url(#b5)"/>
<circle cx="176.13" cy="707.85" r="0.80" fill="#8d8d8d" opacity="0.47" filter="url(#b5)"/>
<circle cx="157.25" cy="684.77" r="0.80" fill="#7c7c7c" opacity="0.72" filter="url(#b5)"/>
<circle cx="139.17" cy="698.18" r="0.70" fill="#545454" opacity="0.70" filter="url(#b5)"/>
<circle cx="161.34" cy="673.36" r="0.80" fill="#626262" opacity="0.76" filter="url(#b5)"/>
<circle cx="173.43" cy="667.73" r="0.50" fill="#8f8f8f" opacity="0.84" filter="url(#b5)"/>
<circle cx="184.51" cy="699.99" r="0.70" fill="#8d8d8d" opacity="0.74" filter="url(#b5)"/>
<circle cx="128.66" cy="659.21" r="0.70" fill="#8a8a8a" opacity="0.62" filter="url(#b5)"/>
<circle cx="199.52" cy="672.81" r="1.10" fill="#707070" opacity="0.69" filter="url(#b5)"/>
<circle cx="200.16" cy="698.79" r="0.70" fill="#404040" opacity="0.58" filter="url(#b5)"/>
<circle cx="149.16" cy="659.58" r="0.50" fill="#646464" opacity="0.78" filter="url(#b5)"/>
<circle cx="193.31" cy="702.39" r="0.90" fill="#525252" opacity="0.56" filter="url(#b5)"/>
<circle cx="196.52" cy="698.76" r="1.10" fill="#7f7f7f" opacity="0.59" filter="url(#b5)"/>
<circle cx="134.31" cy="683.49" r="0.80" fill="#595959" opacity="0.77" filter="url(#b5)"/>
<circle cx="186.04" cy="709.33" r="0.70" fill="#8d8d8d" opacity="0.47" filter="url(#b5)"/>
<circle cx="159.51" cy="692.81" r="0.70" fill="#8b8b8b" opacity="0.75" filter="url(#b5)"/>
<circle cx="191.68" cy="677.82" r="0.50" fill="#848484" opacity="0.77" filter="url(#b5)"/>
<circle cx="190.10" cy="664.14" r="0.90" fill="#828282" opacity="0.81" filter="url(#b5)"/>
<circle cx="199.27" cy="681.57" r="0.80" fill="#808080" opacity="0.69" filter="url(#b5)"/>
<circle cx="142.76" cy="661.70" r="0.60" fill="#656565" opacity="0.60" filter="url(#b5)"/>
<circle cx="173.23" cy="674.37" r="0.90" fill="#535353" opacity="0.55" filter="url(#b5)"/>
<circle cx="202.32" cy="679.84" r="0.50" fill="#6f6f6f" opacity="0.70" filter="url(#b5)"/>
<circle cx="191.33" cy="659.52" r="0.90" fill="#434343" opacity="0.59" filter="url(#b5)"/>
<circle cx="169.58" cy="651.34" r="0.50" fill="#5a5a5a" opacity="0.85" filter="url(#b5)"/>
<circle cx="197.73" cy="679.42" r="0.90" fill="#5b5b5b" opacity="0.55" filter="url(#b5)"/>
<circle cx="190.67" cy="675.78" r="0.80" fill="#8b8b8b" opacity="0.78" filter="url(#b5)"/>
<circle cx="205.63" cy="665.42" r="0.50" fill="#6b6b6b" opacity="0.53" filter="url(#b5)"/>
<circle cx="142.08" cy="655.14" r="0.50" fill="#444444" opacity="0.67" filter="url(#b5)"/>
<circle cx="198.10" cy="677.73" r="0.50" fill="#8c8c8c" opacity="0.71" filter="url(#b5)"/>
<circle cx="202.28" cy="692.69" r="0.50" fill="#606060" opacity="0.58" filter="url(#b5)"/>
<circle cx="146.34" cy="655.51" r="1.10" fill="#808080" opacity="0.61" filter="url(#b5)"/>
<circle cx="163.81" cy="659.73" r="0.60" fill="#5c5c5c" opacity="0.52" filter="url(#b5)"/>
<circle cx="203.87" cy="706.85" r="0.50" fill="#868686" opacity="0.81" filter="url(#b5)"/>
<circle cx="195.38" cy="652.94" r="0.90" fill="#7d7d7d" opacity="0.47" filter="url(#b5)"/>
<circle cx="139.16" cy="695.62" r="0.60" fill="#666666" opacity="0.69" filter="url(#b5)"/>
<circle cx="163.23" cy="689.45" r="0.80" fill="#696969" opacity="0.60" filter="url(#b5)"/>
<circle cx="159.07" cy="672.71" r="0.80" fill="#555555" opacity="0.63" filter="url(#b5)"/>
<circle cx="192.97" cy="705.23" r="0.50" fill="#7b7b7b" opacity="0.74" filter="url(#b5)"/>
<circle cx="143.24" cy="652.27" r="0.60" fill="#494949" opacity="0.82" filter="url(#b5)"/>
<circle cx="197.78" cy="703.69" r="0.60" fill="#797979" opacity="0.83" filter="url(#b5)"/>
<circle cx="202.59" cy="673.32" r="0.50" fill="#909090" opacity="0.48" filter="url(#b5)"/>
<circle cx="206.35" cy="669.55" r="0.60" fill="#7d7d7d" opacity="0.50" filter="url(#b5)"/>
<circle cx="157.12" cy="670.12" r="1.10" fill="#474747" opacity="0.52" filter="url(#b5)"/>
<circle cx="164.05" cy="703.73" r="0.80" fill="#535353" opacity="0.56" filter="url(#b5)"/>
<circle cx="160.84" cy="659.49" r="0.70" fill="#898989" opacity="0.79" filter="url(#b5)"/>
<circle cx="154.56" cy="660.22" r="0.80" fill="#4d4d4d" opacity="0.58" filter="url(#b5)"/>
<circle cx="200.74" cy="656.98" r="0.90" fill="#474747" opacity="0.70" filter="url(#b5)"/>
<circle cx="191.35" cy="705.89" r="0.90" fill="#7d7d7d" opacity="0.78" filter="url(#b5)"/>
<circle cx="137.08" cy="695.62" r="0.70" fill="#777777" opacity="0.85" filter="url(#b5)"/>
<circle cx="208.44" cy="705.88" r="0.50" fill="#717171" opacity="0.57" filter="url(#b5)"/>
<circle cx="200.17" cy="653.57" r="1.10" fill="#656565" opacity="0.51" filter="url(#b5)"/>
<circle cx="179.35" cy="676.76" r="0.90" fill="#6b6b6b" opacity="0.65" filter="url(#b5)"/>
<circle cx="163.37" cy="697.71" r="0.90" fill="#646464" opacity="0.52" filter="url(#b5)"/>
<circle cx="162.74" cy="705.09" r="0.60" fill="#636363" opacity="0.68" filter="url(#b5)"/>
<circle cx="138.61" cy="660.96" r="0.60" fill="#565656" opacity="0.53" filter="url(#b5)"/>
<circle cx="133.84" cy="655.37" r="1.81" fill="#a0a0a0" opacity="0.3" filter="url(#b1)"/>
<circle cx="167.63" cy="666.62" r="1.41" fill="#a0a0a0" opacity="0.3" filter="url(#b1)"/>
<circle cx="177.13" cy="692.78" r="2.01" fill="#a0a0a0" opacity="0.3" filter="url(#b1)"/>
<circle cx="174.73" cy="662.30" r="1.27" fill="#a0a0a0" opacity="0.3" filter="url(#b1)"/>
<circle cx="186.90" cy="674.71" r="1.92" fill="#a0a0a0" opacity="0.3" filter="url(#b1)"/>
<circle cx="131.90" cy="698.98" r="1.54" fill="#a0a0a0" opacity="0.3" filter="url(#b1)"/>
</g>
<rect x="212.00" y="584.60" width="83.30" height="62.30" fill="url(#hg5)" />
<rect x="212.00" y="584.60" width="83.30" height="62.30" fill="#000" filter="url(#gr5)"/>
<g clip-path="url(#hc5)">
<circle cx="281.45" cy="637.73" r="0.80" fill="#4b4b4b" opacity="0.46" filter="url(#b5)"/>
<circle cx="287.00" cy="614.34" r="1.10" fill="#626262" opacity="0.55" filter="url(#b5)"/>
<circle cx="258.78" cy="645.04" r="0.50" fill="#545454" opacity="0.73" filter="url(#b5)"/>
<circle cx="259.74" cy="637.34" r="0.70" fill="#828282" opacity="0.82" filter="url(#b5)"/>
<circle cx="291.76" cy="589.90" r="0.70" fill="#5f5f5f" opacity="0.78" filter="url(#b5)"/>
<circle cx="283.36" cy="604.96" r="1.10" fill="#707070" opacity="0.68" filter="url(#b5)"/>
<circle cx="286.01" cy="603.18" r="0.50" fill="#7f7f7f" opacity="0.63" filter="url(#b5)"/>
<circle cx="215.08" cy="634.11" r="0.60" fill="#424242" opacity="0.55" filter="url(#b5)"/>
<circle cx="220.20" cy="622.93" r="0.60" fill="#4d4d4d" opacity="0.57" filter="url(#b5)"/>
<circle cx="258.15" cy="643.21" r="0.50" fill="#4c4c4c" opacity="0.82" filter="url(#b5)"/>
<circle cx="273.06" cy="601.36" r="0.90" fill="#898989" opacity="0.64" filter="url(#b5)"/>
<circle cx="232.38" cy="612.39" r="0.70" fill="#4c4c4c" opacity="0.74" filter="url(#b5)"/>
<circle cx="216.67" cy="593.02" r="0.80" fill="#8a8a8a" opacity="0.65" filter="url(#b5)"/>
<circle cx="235.73" cy="592.96" r="0.80" fill="#515151" opacity="0.67" filter="url(#b5)"/>
<circle cx="231.49" cy="599.29" r="1.10" fill="#898989" opacity="0.63" filter="url(#b5)"/>
<circle cx="245.24" cy="642.78" r="0.50" fill="#717171" opacity="0.73" filter="url(#b5)"/>
<circle cx="261.54" cy="621.95" r="0.50" fill="#727272" opacity="0.84" filter="url(#b5)"/>
<circle cx="217.22" cy="607.50" r="0.80" fill="#5e5e5e" opacity="0.79" filter="url(#b5)"/>
<circle cx="271.17" cy="636.43" r="0.90" fill="#696969" opacity="0.78" filter="url(#b5)"/>
<circle cx="281.91" cy="588.83" r="0.90" fill="#525252" opacity="0.83" filter="url(#b5)"/>
<circle cx="288.96" cy="600.63" r="0.80" fill="#909090" opacity="0.45" filter="url(#b5)"/>
<circle cx="221.86" cy="596.91" r="0.70" fill="#777777" opacity="0.53" filter="url(#b5)"/>
<circle cx="267.40" cy="599.20" r="0.80" fill="#727272" opacity="0.76" filter="url(#b5)"/>
<circle cx="289.17" cy="623.78" r="0.50" fill="#444444" opacity="0.80" filter="url(#b5)"/>
<circle cx="263.48" cy="640.95" r="0.90" fill="#626262" opacity="0.70" filter="url(#b5)"/>
<circle cx="278.55" cy="587.76" r="0.50" fill="#606060" opacity="0.50" filter="url(#b5)"/>
<circle cx="214.11" cy="599.87" r="0.50" fill="#646464" opacity="0.50" filter="url(#b5)"/>
<circle cx="241.26" cy="595.67" r="0.50" fill="#8c8c8c" opacity="0.83" filter="url(#b5)"/>
<circle cx="287.88" cy="639.96" r="0.50" fill="#7b7b7b" opacity="0.69" filter="url(#b5)"/>
<circle cx="288.77" cy="612.13" r="0.90" fill="#505050" opacity="0.80" filter="url(#b5)"/>
<circle cx="287.44" cy="620.41" r="1.47" fill="#a0a0a0" opacity="0.3" filter="url(#b1)"/>
<circle cx="272.83" cy="630.25" r="1.49" fill="#a0a0a0" opacity="0.3" filter="url(#b1)"/>
<circle cx="249.92" cy="627.50" r="1.42" fill="#a0a0a0" opacity="0.3" filter="url(#b1)"/>
</g>
<rect x="212.00" y="649.10" width="83.30" height="62.30" fill="url(#hg6)" />
<rect x="212.00" y="649.10" width="83.30" height="62.30" fill="#000" filter="url(#gr6)"/>
<g clip-path="url(#hc6)">
<circle cx="244.43" cy="683.18" r="0.70" fill="#7a7a7a" opacity="0.81" filter="url(#b5)"/>
<circle cx="237.69" cy="678.91" r="0.70" fill="#434343" opacity="0.55" filter="url(#b5)"/>
<circle cx="231.01" cy="681.00" r="0.80" fill="#8a8a8a" opacity="0.61" filter="url(#b5)"/>
<circle cx="288.14" cy="659.89" r="0.60" fill="#696969" opacity="0.67" filter="url(#b5)"/>
<circle cx="252.95" cy="667.27" r="0.60" fill="#656565" opacity="0.47" filter="url(#b5)"/>
<circle cx="214.77" cy="683.33" r="0.90" fill="#6c6c6c" opacity="0.63" filter="url(#b5)"/>
<circle cx="218.04" cy="673.49" r="0.80" fill="#6d6d6d" opacity="0.74" filter="url(#b5)"/>
<circle cx="221.88" cy="663.68" r="1.10" fill="#535353" opacity="0.62" filter="url(#b5)"/>
<circle cx="267.33" cy="658.56" r="0.60" fill="#8e8e8e" opacity="0.69" filter="url(#b5)"/>
<circle cx="235.50" cy="700.69" r="0.50" fill="#7c7c7c" opacity="0.56" filter="url(#b5)"/>
<circle cx="264.27" cy="688.22" r="1.10" fill="#505050" opacity="0.62" filter="url(#b5)"/>
<circle cx="221.40" cy="674.85" r="0.90" fill="#8a8a8a" opacity="0.50" filter="url(#b5)"/>
<circle cx="245.32" cy="709.97" r="0.60" fill="#757575" opacity="0.79" filter="url(#b5)"/>
<circle cx="235.71" cy="687.57" r="0.50" fill="#707070" opacity="0.79" filter="url(#b5)"/>
<circle cx="269.31" cy="667.47" r="0.70" fill="#656565" opacity="0.59" filter="url(#b5)"/>
<circle cx="255.77" cy="686.00" r="1.10" fill="#696969" opacity="0.45" filter="url(#b5)"/>
<circle cx="273.63" cy="709.78" r="0.80" fill="#787878" opacity="0.57" filter="url(#b5)"/>
<circle cx="256.65" cy="698.52" r="0.80" fill="#898989" opacity="0.60" filter="url(#b5)"/>
<circle cx="231.86" cy="699.64" r="0.70" fill="#696969" opacity="0.84" filter="url(#b5)"/>
<circle cx="262.44" cy="664.73" r="0.70" fill="#5a5a5a" opacity="0.84" filter="url(#b5)"/>
<circle cx="285.46" cy="707.74" r="1.23" fill="#a0a0a0" opacity="0.3" filter="url(#b1)"/>
<circle cx="233.86" cy="704.12" r="1.50" fill="#a0a0a0" opacity="0.3" filter="url(#b1)"/>
<circle cx="256.61" cy="668.94" r="1.82" fill="#a0a0a0" opacity="0.3" filter="url(#b1)"/>
</g>
<g clip-path="url(#hc1)">
<circle cx="61.20" cy="614.80" r="3.51" fill="#4a4a4a" opacity="0.55" filter="url(#b1)"/>
<circle cx="61.20" cy="614.80" r="2.70" fill="#1a1a1a" opacity="0.88" filter="url(#b5)"/>
<circle cx="60.60" cy="611.20" r="2.08" fill="#555" opacity="0.55" filter="url(#b1)"/>
<circle cx="60.60" cy="611.20" r="1.60" fill="#202020" opacity="0.88" filter="url(#b5)"/>
<circle cx="66.00" cy="612.60" r="2.21" fill="#555" opacity="0.55" filter="url(#b1)"/>
<circle cx="66.00" cy="612.60" r="1.70" fill="#262626" opacity="0.88" filter="url(#b5)"/>
<circle cx="66.40" cy="616.60" r="2.73" fill="#777" opacity="0.55" filter="url(#b1)"/>
<circle cx="66.40" cy="616.60" r="2.10" fill="#4a4a4a" opacity="0.88" filter="url(#b5)"/>
<circle cx="63.60" cy="616.40" r="2.34" fill="#555" opacity="0.55" filter="url(#b1)"/>
<circle cx="63.60" cy="616.40" r="1.80" fill="#2a2a2a" opacity="0.88" filter="url(#b5)"/>
<circle cx="95.20" cy="622.00" r="6.00" fill="#666" opacity="0.45" filter="url(#b1)"/>
<circle cx="95.20" cy="622.00" r="5.06" fill="#4a4a4a" opacity="0.55" filter="url(#b1)"/>
<circle cx="95.20" cy="622.00" r="4.40" fill="#1a1a1a" opacity="0.88" filter="url(#b1)"/>
<circle cx="94.00" cy="617.80" r="2.04" fill="#777" opacity="0.55" filter="url(#b1)"/>
<circle cx="94.00" cy="617.80" r="1.70" fill="#3a3a3a" opacity="0.88" filter="url(#b5)"/>
<circle cx="55.30" cy="637.70" r="2.34" fill="#666" opacity="0.55" filter="url(#b1)"/>
<circle cx="55.30" cy="637.70" r="1.80" fill="#222" opacity="0.88" filter="url(#b5)"/>
<circle cx="64.00" cy="588.20" r="1.69" fill="#777" opacity="0.55" filter="url(#b1)"/>
<circle cx="64.00" cy="588.20" r="1.30" fill="#3a3a3a" opacity="0.88" filter="url(#b5)"/>
<circle cx="100.50" cy="634.50" r="1.30" fill="#777" opacity="0.55" filter="url(#b1)"/>
<circle cx="100.50" cy="634.50" r="1.00" fill="#555" opacity="0.88" filter="url(#b5)"/>
<circle cx="57.50" cy="627.00" r="2.99" fill="#bbb" opacity="0.55" filter="url(#b1)"/>
<circle cx="57.50" cy="627.00" r="2.30" fill="#b0b0b0" opacity="0.88" filter="url(#b5)"/>
</g>
<g clip-path="url(#hc2)">
<circle cx="77.80" cy="651.90" r="1.62" fill="#777" opacity="0.55" filter="url(#b1)"/>
<circle cx="77.80" cy="651.90" r="1.20" fill="#333" opacity="0.88" filter="url(#b5)"/>
<circle cx="61.00" cy="667.80" r="1.62" fill="#777" opacity="0.55" filter="url(#b1)"/>
<circle cx="61.00" cy="667.80" r="1.20" fill="#333" opacity="0.88" filter="url(#b5)"/>
<circle cx="93.40" cy="675.50" r="2.03" fill="#777" opacity="0.55" filter="url(#b1)"/>
<circle cx="93.40" cy="675.50" r="1.50" fill="#333" opacity="0.88" filter="url(#b5)"/>
<circle cx="93.50" cy="685.50" r="1.35" fill="#777" opacity="0.55" filter="url(#b1)"/>
<circle cx="93.50" cy="685.50" r="1.00" fill="#333" opacity="0.88" filter="url(#b5)"/>
<circle cx="85.70" cy="690.30" r="1.76" fill="#777" opacity="0.55" filter="url(#b1)"/>
<circle cx="85.70" cy="690.30" r="1.30" fill="#333" opacity="0.88" filter="url(#b5)"/>
<circle cx="110.90" cy="662.00" r="1.49" fill="#777" opacity="0.55" filter="url(#b1)"/>
<circle cx="110.90" cy="662.00" r="1.10" fill="#333" opacity="0.88" filter="url(#b5)"/>
<circle cx="116.70" cy="669.00" r="1.62" fill="#777" opacity="0.55" filter="url(#b1)"/>
<circle cx="116.70" cy="669.00" r="1.20" fill="#333" opacity="0.88" filter="url(#b5)"/>
<circle cx="79.00" cy="661.00" r="1.22" fill="#777" opacity="0.55" filter="url(#b1)"/>
<circle cx="79.00" cy="661.00" r="0.90" fill="#333" opacity="0.88" filter="url(#b5)"/>
<circle cx="47.50" cy="696.50" r="1.49" fill="#777" opacity="0.55" filter="url(#b1)"/>
<circle cx="47.50" cy="696.50" r="1.10" fill="#333" opacity="0.88" filter="url(#b5)"/>
<circle cx="69.00" cy="689.00" r="1.35" fill="#777" opacity="0.55" filter="url(#b1)"/>
<circle cx="69.00" cy="689.00" r="1.00" fill="#333" opacity="0.88" filter="url(#b5)"/>
<circle cx="66.00" cy="697.00" r="1.62" fill="#777" opacity="0.55" filter="url(#b1)"/>
<circle cx="66.00" cy="697.00" r="1.20" fill="#333" opacity="0.88" filter="url(#b5)"/>
<circle cx="104.00" cy="701.00" r="1.35" fill="#777" opacity="0.55" filter="url(#b1)"/>
<circle cx="104.00" cy="701.00" r="1.00" fill="#333" opacity="0.88" filter="url(#b5)"/>
</g>
<g clip-path="url(#hc3)">
<circle cx="141.00" cy="609.50" r="8.20" fill="#666" opacity="0.55" filter="url(#bb)"/>
<circle cx="140.40" cy="608.80" r="7.50" fill="#4a4a4a" opacity="0.55" filter="url(#b1)"/>
<circle cx="140.40" cy="608.80" r="6.00" fill="#1c1c1c" opacity="0.88" filter="url(#b1)"/>
<circle cx="147.80" cy="612.30" r="3.38" fill="#777" opacity="0.55" filter="url(#b1)"/>
<circle cx="147.80" cy="612.30" r="2.60" fill="#555" opacity="0.88" filter="url(#b5)"/>
<circle cx="156.00" cy="598.50" r="7.20" fill="#666" opacity="0.5" filter="url(#bb)"/>
<circle cx="156.20" cy="598.80" r="6.50" fill="#4a4a4a" opacity="0.55" filter="url(#b1)"/>
<circle cx="156.20" cy="598.80" r="5.20" fill="#1a1a1a" opacity="0.88" filter="url(#b1)"/>
<circle cx="153.20" cy="593.00" r="2.99" fill="#666" opacity="0.55" filter="url(#b1)"/>
<circle cx="153.20" cy="593.00" r="2.30" fill="#333" opacity="0.88" filter="url(#b5)"/>
<circle cx="198.90" cy="631.00" r="5.07" fill="#5a5a5a" opacity="0.55" filter="url(#b1)"/>
<circle cx="198.90" cy="631.00" r="3.90" fill="#1a1a1a" opacity="0.88" filter="url(#b1)"/>
<circle cx="203.80" cy="632.60" r="3.38" fill="#777" opacity="0.55" filter="url(#b1)"/>
<circle cx="203.80" cy="632.60" r="2.60" fill="#4a4a4a" opacity="0.88" filter="url(#b5)"/>
<circle cx="145.50" cy="601.50" r="1.30" fill="#777" opacity="0.55" filter="url(#b1)"/>
<circle cx="145.50" cy="601.50" r="1.00" fill="#444" opacity="0.88" filter="url(#b5)"/>
</g>
<g clip-path="url(#hc4)">
<circle cx="157.00" cy="690.50" r="11.00" fill="#6a6a6a" opacity="0.55" filter="url(#b4)"/>
<circle cx="157.00" cy="689.00" r="8.68" fill="#555" opacity="0.55" filter="url(#b1)"/>
<circle cx="157.00" cy="689.00" r="6.20" fill="#2a2a2a" opacity="0.85" filter="url(#b1)"/>
<circle cx="153.50" cy="695.50" r="4.68" fill="#777" opacity="0.55" filter="url(#b1)"/>
<circle cx="153.50" cy="695.50" r="3.60" fill="#4a4a4a" opacity="0.8" filter="url(#b1)"/>
<circle cx="169.30" cy="658.80" r="2.99" fill="#666" opacity="0.55" filter="url(#b1)"/>
<circle cx="169.30" cy="658.80" r="2.30" fill="#2a2a2a" opacity="0.88" filter="url(#b5)"/>
<circle cx="136.10" cy="692.00" r="2.86" fill="#666" opacity="0.55" filter="url(#b1)"/>
<circle cx="136.10" cy="692.00" r="2.20" fill="#2a2a2a" opacity="0.88" filter="url(#b5)"/>
<circle cx="142.70" cy="700.40" r="2.08" fill="#666" opacity="0.55" filter="url(#b1)"/>
<circle cx="142.70" cy="700.40" r="1.60" fill="#2a2a2a" opacity="0.88" filter="url(#b5)"/>
<circle cx="193.2" cy="676.1" r="3.0" fill="none" stroke="#777" stroke-width="0.9" filter="url(#b5)"/>
</g>
<g clip-path="url(#hc5)">
<circle cx="227.90" cy="599.00" r="11.30" fill="#2e2e2e" filter="url(#b5)"/>
<circle cx="227.90" cy="599.00" r="9.90" fill="#707070" filter="url(#b5)"/>
<circle cx="227.90" cy="599.00" r="7.60" fill="#2a2a2a" filter="url(#b1)"/>
<circle cx="279.00" cy="632.30" r="13.30" fill="#2e2e2e" filter="url(#b5)"/>
<circle cx="279.00" cy="632.30" r="11.90" fill="#8e8e8e" filter="url(#b5)"/>
<circle cx="279.00" cy="632.30" r="8.00" fill="#2a2a2a" filter="url(#b1)"/>
</g>
<g clip-path="url(#hc6)">
<ellipse cx="221.0" cy="665.4" rx="4.6" ry="4.0" fill="#232323" filter="url(#b3)"/>
<circle cx="225.30" cy="673.50" r="3.12" fill="#666" opacity="0.55" filter="url(#b1)"/>
<circle cx="225.30" cy="673.50" r="2.40" fill="#202020" opacity="0.88" filter="url(#b5)"/>
<circle cx="264.20" cy="670.10" r="5.20" fill="#c0c0c0" filter="url(#b4)"/>
<circle cx="283.30" cy="678.70" r="8.90" fill="#2e2e2e" filter="url(#b5)"/>
<circle cx="283.30" cy="678.70" r="7.50" fill="#5a5a5a" filter="url(#b5)"/>
<circle cx="283.30" cy="678.70" r="6.80" fill="#2a2a2a" filter="url(#b1)"/>
</g>
<rect x="40.60" y="584.60" width="84.00" height="62.30" fill="none" stroke="#333" stroke-width="1.4"/>
<line x1="87.30" y1="644.50" x2="120.20" y2="644.50" stroke="#333" stroke-width="1.4"/>
<rect x="40.60" y="649.10" width="84.00" height="62.30" fill="none" stroke="#333" stroke-width="1.4"/>
<line x1="87.30" y1="709.50" x2="120.20" y2="709.50" stroke="#333" stroke-width="1.4"/>
<rect x="126.40" y="584.60" width="83.20" height="62.30" fill="none" stroke="#333" stroke-width="1.4"/>
<line x1="172.30" y1="644.50" x2="205.20" y2="644.50" stroke="#333" stroke-width="1.4"/>
<rect x="126.40" y="649.10" width="83.20" height="62.30" fill="none" stroke="#333" stroke-width="1.4"/>
<line x1="172.30" y1="709.50" x2="205.20" y2="709.50" stroke="#333" stroke-width="1.4"/>
<rect x="212.00" y="584.60" width="83.30" height="62.30" fill="none" stroke="#333" stroke-width="1.4"/>
<line x1="258.00" y1="644.50" x2="290.90" y2="644.50" stroke="#333" stroke-width="1.4"/>
<rect x="212.00" y="649.10" width="83.30" height="62.30" fill="none" stroke="#333" stroke-width="1.4"/>
<line x1="258.00" y1="709.50" x2="290.90" y2="709.50" stroke="#333" stroke-width="1.4"/>
<rect x="0.5" y="0.5" width="519" height="718" fill="none" stroke="#000" stroke-width="1.2"/>
</svg>
</body></html>
